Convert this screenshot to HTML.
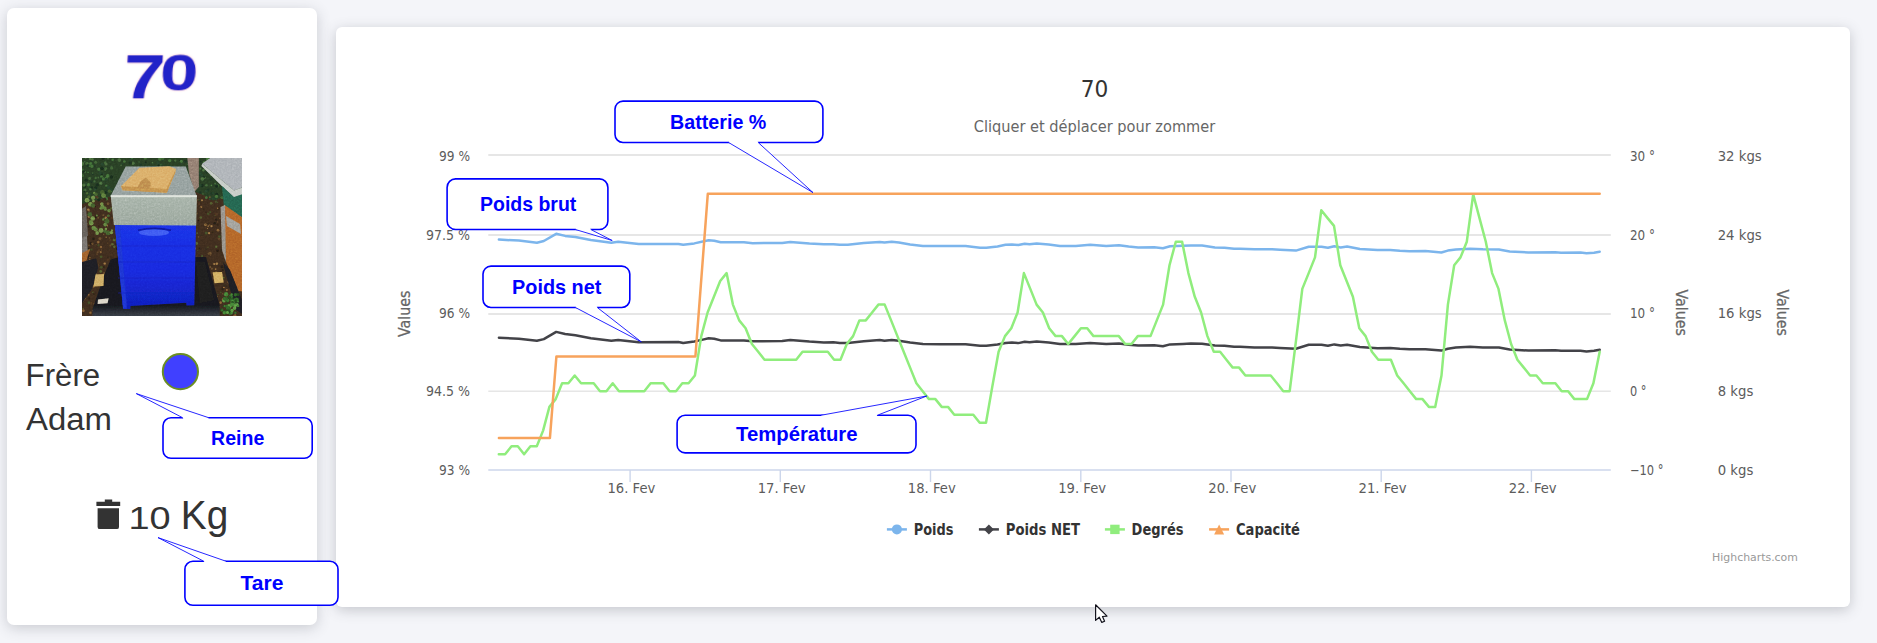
<!DOCTYPE html>
<html lang="fr">
<head>
<meta charset="utf-8">
<title>Ruche 70</title>
<style>
html,body{margin:0;padding:0;}
body{width:1877px;height:643px;overflow:hidden;background:#f4f5f9;position:relative;font-family:"Liberation Sans","DejaVu Sans",sans-serif;}
.card{position:absolute;background:#fff;}
#c1{left:7px;top:8px;width:310px;height:617px;border-radius:7px;box-shadow:0 3px 14px rgba(60,65,78,.23);}
#c2{left:336px;top:27px;width:1514px;height:580px;border-radius:6px;box-shadow:0 3px 13px rgba(60,65,78,.26);}
svg{position:absolute;left:0;top:0;}
.ax{font-family:"DejaVu Sans","Liberation Sans",sans-serif;font-size:13.6px;fill:#5c5c5c;}
.lg{font-family:"DejaVu Sans","Liberation Sans",sans-serif;font-size:15px;font-weight:bold;fill:#333;}
.co{font-family:"Liberation Sans",sans-serif;font-weight:bold;font-size:19.7px;fill:#0000ff;text-anchor:middle;}
.bx{fill:#fff;stroke:#0000ff;stroke-width:1.6;}
.pt{fill:#fff;stroke:#0000ff;stroke-width:.85;}
.ral{font-family:"Liberation Sans",sans-serif;fill:#333;}
</style>
</head>
<body>
<div class="card" id="c1"></div>
<div class="card" id="c2"></div>
<svg id="main" width="1877" height="643" viewBox="0 0 1877 643">
<!--LEFT-->
<g id="left">
<text x="0" y="0" transform="translate(122.4,98.3) skewX(-3)" font-family="Liberation Sans, sans-serif" font-weight="bold" fill="#2222c8" font-size="62" style="filter:drop-shadow(0 0 1.2px rgba(255,120,140,.55))"><tspan textLength="41.4" lengthAdjust="spacingAndGlyphs">7</tspan><tspan font-size="49.8" dx="-5" dy="-7.5" textLength="38" lengthAdjust="spacingAndGlyphs">0</tspan></text>

<defs><clipPath id="pc"><rect x="82" y="158" width="160" height="158"/></clipPath><filter id="pb" x="-5%" y="-5%" width="110%" height="110%"><feGaussianBlur stdDeviation="0.7"/></filter><linearGradient id="gBlue" x1="0" y1="0" x2="0" y2="1"><stop offset="0" stop-color="#1a2fe6"/><stop offset=".55" stop-color="#1527dc"/><stop offset="1" stop-color="#0f1db4"/></linearGradient><linearGradient id="gMetal" x1="0" y1="0" x2="0" y2="1"><stop offset="0" stop-color="#c9d2c8"/><stop offset=".08" stop-color="#a0ada2"/><stop offset="1" stop-color="#93a096"/></linearGradient><linearGradient id="gTarp" x1="0" y1="0" x2="0" y2="1"><stop offset="0" stop-color="#14151a"/><stop offset=".8" stop-color="#16181d"/><stop offset="1" stop-color="#3a4049"/></linearGradient><filter id="pn" x="0" y="0" width="100%" height="100%"><feTurbulence type="fractalNoise" baseFrequency="0.55" numOctaves="2" seed="3"/><feColorMatrix type="saturate" values="0"/></filter></defs>
<g clip-path="url(#pc)"><g filter="url(#pb)">
<rect x="78" y="154" width="168" height="166" fill="#3b2a1b"/>
<polygon points="78.0,154.0 246.0,154.0 246.0,190.0 215.0,200.0 196.0,192.0 150.0,170.0 112.0,196.0 78.0,205.0" fill="#263b24" />
<circle cx="133.8" cy="164.3" r="0.8" fill="#182a1a"/>
<circle cx="213.4" cy="162.0" r="0.8" fill="#46683a"/>
<circle cx="163.2" cy="159.6" r="1.2" fill="#25402a"/>
<circle cx="91.5" cy="181.7" r="1.4" fill="#1f3320"/>
<circle cx="175.3" cy="160.6" r="1.1" fill="#46683a"/>
<circle cx="238.2" cy="160.0" r="1.0" fill="#1f3320"/>
<circle cx="105.1" cy="162.9" r="1.3" fill="#3c5f33"/>
<circle cx="191.1" cy="162.3" r="1.4" fill="#46683a"/>
<circle cx="92.0" cy="160.5" r="1.2" fill="#1f3320"/>
<circle cx="110.8" cy="190.8" r="1.3" fill="#3f6a35"/>
<circle cx="198.7" cy="170.1" r="0.8" fill="#3f6a35"/>
<circle cx="106.3" cy="178.5" r="1.8" fill="#3f6a35"/>
<circle cx="94.4" cy="181.4" r="1.1" fill="#3c5f33"/>
<circle cx="209.5" cy="160.9" r="1.7" fill="#3f6a35"/>
<circle cx="91.7" cy="187.5" r="1.3" fill="#182a1a"/>
<circle cx="161.4" cy="165.0" r="1.3" fill="#25402a"/>
<circle cx="223.3" cy="192.4" r="1.0" fill="#46683a"/>
<circle cx="223.5" cy="198.2" r="0.8" fill="#1f3320"/>
<circle cx="106.2" cy="185.7" r="1.2" fill="#3f6a35"/>
<circle cx="82.7" cy="175.6" r="1.4" fill="#3c5f33"/>
<circle cx="133.0" cy="163.3" r="1.7" fill="#46683a"/>
<circle cx="234.3" cy="186.6" r="1.1" fill="#46683a"/>
<circle cx="145.8" cy="162.3" r="1.1" fill="#182a1a"/>
<circle cx="152.5" cy="162.6" r="0.8" fill="#46683a"/>
<circle cx="82.0" cy="164.4" r="1.7" fill="#3f6a35"/>
<circle cx="180.2" cy="161.0" r="1.4" fill="#1f3320"/>
<circle cx="105.8" cy="168.6" r="1.4" fill="#3c5f33"/>
<circle cx="157.9" cy="162.8" r="1.8" fill="#25402a"/>
<circle cx="95.7" cy="162.3" r="1.5" fill="#3c5f33"/>
<circle cx="234.3" cy="173.2" r="1.3" fill="#182a1a"/>
<circle cx="86.3" cy="180.2" r="1.6" fill="#182a1a"/>
<circle cx="140.7" cy="165.0" r="1.3" fill="#1f3320"/>
<circle cx="206.6" cy="171.8" r="1.4" fill="#1f3320"/>
<circle cx="208.1" cy="189.8" r="1.6" fill="#1f3320"/>
<circle cx="212.9" cy="189.1" r="0.9" fill="#1f3320"/>
<circle cx="240.3" cy="191.2" r="1.0" fill="#25402a"/>
<circle cx="240.1" cy="198.1" r="0.8" fill="#3c5f33"/>
<circle cx="98.3" cy="177.7" r="0.9" fill="#3c5f33"/>
<circle cx="216.5" cy="178.1" r="1.1" fill="#182a1a"/>
<circle cx="101.2" cy="174.3" r="1.5" fill="#182a1a"/>
<circle cx="158.5" cy="165.5" r="1.1" fill="#182a1a"/>
<circle cx="210.1" cy="198.8" r="1.2" fill="#25402a"/>
<circle cx="200.9" cy="161.6" r="0.9" fill="#1f3320"/>
<circle cx="102.3" cy="164.3" r="1.6" fill="#25402a"/>
<circle cx="105.4" cy="192.7" r="1.4" fill="#25402a"/>
<circle cx="103.0" cy="158.6" r="1.4" fill="#182a1a"/>
<circle cx="214.2" cy="166.9" r="0.9" fill="#3c5f33"/>
<circle cx="215.5" cy="160.6" r="1.1" fill="#182a1a"/>
<circle cx="226.7" cy="175.7" r="0.8" fill="#46683a"/>
<circle cx="106.3" cy="179.4" r="1.6" fill="#25402a"/>
<circle cx="106.0" cy="163.9" r="1.5" fill="#46683a"/>
<circle cx="207.5" cy="162.5" r="0.8" fill="#46683a"/>
<circle cx="112.6" cy="159.8" r="1.3" fill="#3f6a35"/>
<circle cx="228.0" cy="176.6" r="1.8" fill="#46683a"/>
<circle cx="211.2" cy="179.3" r="1.5" fill="#1f3320"/>
<circle cx="222.2" cy="197.6" r="1.7" fill="#3c5f33"/>
<circle cx="224.8" cy="166.5" r="0.9" fill="#25402a"/>
<circle cx="101.5" cy="176.6" r="1.4" fill="#3f6a35"/>
<circle cx="130.4" cy="163.1" r="1.7" fill="#1f3320"/>
<circle cx="122.5" cy="163.8" r="0.9" fill="#25402a"/>
<circle cx="234.4" cy="174.7" r="0.9" fill="#25402a"/>
<circle cx="139.1" cy="161.9" r="0.7" fill="#3c5f33"/>
<circle cx="84.9" cy="171.9" r="1.0" fill="#46683a"/>
<circle cx="235.7" cy="162.7" r="1.8" fill="#1f3320"/>
<circle cx="98.8" cy="169.2" r="1.7" fill="#3f6a35"/>
<circle cx="111.0" cy="189.7" r="1.6" fill="#25402a"/>
<circle cx="209.9" cy="165.7" r="1.0" fill="#3f6a35"/>
<circle cx="84.7" cy="161.7" r="0.8" fill="#3c5f33"/>
<circle cx="219.0" cy="160.8" r="1.2" fill="#3f6a35"/>
<circle cx="230.3" cy="169.3" r="0.7" fill="#1f3320"/>
<circle cx="237.1" cy="169.0" r="0.9" fill="#1f3320"/>
<circle cx="203.5" cy="170.2" r="1.4" fill="#46683a"/>
<circle cx="241.1" cy="159.6" r="1.5" fill="#3f6a35"/>
<circle cx="170.2" cy="166.0" r="1.0" fill="#25402a"/>
<circle cx="237.2" cy="170.9" r="1.8" fill="#1f3320"/>
<circle cx="90.7" cy="163.5" r="1.4" fill="#3f6a35"/>
<circle cx="222.8" cy="176.1" r="0.8" fill="#3f6a35"/>
<circle cx="216.6" cy="194.6" r="1.8" fill="#182a1a"/>
<circle cx="89.2" cy="165.8" r="1.2" fill="#3c5f33"/>
<circle cx="237.6" cy="181.0" r="0.7" fill="#1f3320"/>
<circle cx="223.2" cy="167.2" r="0.7" fill="#1f3320"/>
<circle cx="162.8" cy="158.2" r="1.6" fill="#3c5f33"/>
<circle cx="105.0" cy="182.6" r="0.7" fill="#25402a"/>
<circle cx="202.1" cy="185.6" r="1.6" fill="#182a1a"/>
<circle cx="105.2" cy="192.6" r="1.7" fill="#182a1a"/>
<circle cx="212.0" cy="163.9" r="1.5" fill="#46683a"/>
<circle cx="84.6" cy="186.8" r="1.5" fill="#182a1a"/>
<circle cx="87.0" cy="163.6" r="1.8" fill="#3c5f33"/>
<circle cx="90.1" cy="158.8" r="1.4" fill="#46683a"/>
<circle cx="160.3" cy="158.1" r="1.5" fill="#3f6a35"/>
<circle cx="187.5" cy="160.8" r="1.2" fill="#182a1a"/>
<circle cx="211.5" cy="193.5" r="1.5" fill="#1f3320"/>
<circle cx="238.1" cy="178.7" r="0.8" fill="#25402a"/>
<circle cx="227.7" cy="170.1" r="1.4" fill="#3f6a35"/>
<circle cx="184.8" cy="161.3" r="1.1" fill="#1f3320"/>
<circle cx="181.4" cy="163.6" r="0.8" fill="#25402a"/>
<circle cx="101.0" cy="195.5" r="1.0" fill="#1f3320"/>
<circle cx="95.7" cy="177.9" r="1.2" fill="#3c5f33"/>
<circle cx="213.2" cy="198.7" r="1.8" fill="#25402a"/>
<circle cx="230.9" cy="161.1" r="0.9" fill="#3f6a35"/>
<circle cx="103.2" cy="192.4" r="1.0" fill="#46683a"/>
<circle cx="100.0" cy="173.3" r="1.7" fill="#25402a"/>
<circle cx="159.8" cy="159.0" r="1.7" fill="#3f6a35"/>
<circle cx="198.3" cy="175.5" r="1.0" fill="#25402a"/>
<circle cx="216.4" cy="158.1" r="1.6" fill="#3c5f33"/>
<circle cx="101.2" cy="196.9" r="0.7" fill="#182a1a"/>
<circle cx="200.4" cy="168.6" r="1.1" fill="#3f6a35"/>
<circle cx="241.8" cy="182.7" r="1.7" fill="#3c5f33"/>
<circle cx="202.9" cy="193.9" r="0.8" fill="#3c5f33"/>
<circle cx="215.5" cy="170.0" r="1.0" fill="#1f3320"/>
<circle cx="235.0" cy="195.1" r="1.1" fill="#182a1a"/>
<circle cx="222.1" cy="181.3" r="1.5" fill="#1f3320"/>
<circle cx="89.9" cy="188.8" r="1.4" fill="#25402a"/>
<circle cx="104.2" cy="194.5" r="0.8" fill="#25402a"/>
<circle cx="230.3" cy="163.3" r="1.2" fill="#25402a"/>
<circle cx="200.2" cy="185.4" r="1.4" fill="#25402a"/>
<circle cx="145.1" cy="165.0" r="0.8" fill="#1f3320"/>
<circle cx="121.1" cy="165.3" r="0.8" fill="#46683a"/>
<circle cx="201.9" cy="175.3" r="1.5" fill="#25402a"/>
<circle cx="202.3" cy="178.9" r="1.8" fill="#46683a"/>
<circle cx="102.1" cy="179.1" r="1.6" fill="#182a1a"/>
<circle cx="217.8" cy="161.9" r="1.1" fill="#1f3320"/>
<circle cx="236.9" cy="163.3" r="1.5" fill="#25402a"/>
<circle cx="225.3" cy="177.9" r="1.2" fill="#46683a"/>
<circle cx="93.7" cy="197.1" r="1.6" fill="#46683a"/>
<circle cx="237.6" cy="168.4" r="0.9" fill="#3f6a35"/>
<circle cx="106.3" cy="198.8" r="1.7" fill="#3f6a35"/>
<circle cx="204.4" cy="177.2" r="1.6" fill="#46683a"/>
<circle cx="82.2" cy="163.3" r="1.7" fill="#46683a"/>
<circle cx="102.5" cy="168.6" r="1.2" fill="#182a1a"/>
<circle cx="204.2" cy="162.2" r="1.3" fill="#3c5f33"/>
<circle cx="83.7" cy="170.7" r="1.0" fill="#25402a"/>
<circle cx="169.5" cy="159.2" r="1.5" fill="#25402a"/>
<circle cx="131.2" cy="158.9" r="1.7" fill="#25402a"/>
<circle cx="185.5" cy="161.4" r="1.4" fill="#1f3320"/>
<circle cx="230.0" cy="167.5" r="1.5" fill="#3f6a35"/>
<circle cx="145.4" cy="158.3" r="1.5" fill="#3c5f33"/>
<circle cx="237.2" cy="171.1" r="1.0" fill="#1f3320"/>
<circle cx="161.3" cy="165.9" r="1.2" fill="#1f3320"/>
<circle cx="227.7" cy="160.4" r="0.9" fill="#46683a"/>
<circle cx="237.9" cy="164.0" r="1.5" fill="#3f6a35"/>
<circle cx="111.5" cy="176.9" r="1.7" fill="#182a1a"/>
<circle cx="199.2" cy="199.9" r="1.1" fill="#1f3320"/>
<circle cx="111.7" cy="197.3" r="1.2" fill="#182a1a"/>
<circle cx="216.3" cy="199.4" r="0.9" fill="#25402a"/>
<circle cx="82.5" cy="169.8" r="1.2" fill="#3c5f33"/>
<circle cx="223.6" cy="181.6" r="1.1" fill="#1f3320"/>
<circle cx="205.0" cy="171.0" r="0.8" fill="#25402a"/>
<circle cx="91.9" cy="166.2" r="1.7" fill="#3f6a35"/>
<circle cx="235.2" cy="183.9" r="1.5" fill="#3c5f33"/>
<circle cx="233.4" cy="160.7" r="0.8" fill="#1f3320"/>
<circle cx="206.2" cy="191.2" r="1.6" fill="#25402a"/>
<circle cx="103.2" cy="178.9" r="1.6" fill="#3f6a35"/>
<circle cx="200.2" cy="192.6" r="1.4" fill="#1f3320"/>
<circle cx="94.6" cy="166.3" r="1.0" fill="#1f3320"/>
<circle cx="92.4" cy="159.4" r="1.3" fill="#46683a"/>
<circle cx="107.7" cy="175.9" r="1.8" fill="#3f6a35"/>
<circle cx="124.4" cy="161.5" r="1.2" fill="#3f6a35"/>
<circle cx="240.1" cy="198.8" r="1.0" fill="#1f3320"/>
<circle cx="217.5" cy="185.9" r="1.6" fill="#3f6a35"/>
<circle cx="111.7" cy="167.9" r="1.7" fill="#3c5f33"/>
<circle cx="211.4" cy="185.4" r="0.8" fill="#3f6a35"/>
<circle cx="216.5" cy="196.4" r="1.7" fill="#3f6a35"/>
<circle cx="119.3" cy="160.1" r="1.8" fill="#46683a"/>
<circle cx="206.4" cy="197.7" r="1.4" fill="#3f6a35"/>
<circle cx="88.0" cy="172.3" r="0.9" fill="#3f6a35"/>
<circle cx="83.8" cy="171.7" r="1.1" fill="#182a1a"/>
<circle cx="181.4" cy="161.3" r="1.6" fill="#3f6a35"/>
<circle cx="169.7" cy="160.7" r="1.6" fill="#3f6a35"/>
<circle cx="188.2" cy="164.5" r="0.8" fill="#46683a"/>
<circle cx="108.2" cy="187.2" r="1.8" fill="#25402a"/>
<circle cx="90.2" cy="189.3" r="1.2" fill="#3c5f33"/>
<circle cx="84.9" cy="190.2" r="1.4" fill="#3c5f33"/>
<circle cx="232.7" cy="176.2" r="1.2" fill="#1f3320"/>
<circle cx="213.3" cy="175.1" r="1.2" fill="#3c5f33"/>
<circle cx="108.0" cy="158.6" r="0.9" fill="#46683a"/>
<circle cx="211.0" cy="174.7" r="1.4" fill="#46683a"/>
<circle cx="105.3" cy="169.9" r="0.9" fill="#46683a"/>
<circle cx="92.7" cy="174.1" r="1.0" fill="#1f3320"/>
<circle cx="216.0" cy="159.8" r="1.0" fill="#25402a"/>
<circle cx="95.8" cy="187.9" r="1.6" fill="#182a1a"/>
<circle cx="107.6" cy="191.0" r="1.4" fill="#1f3320"/>
<circle cx="88.7" cy="197.4" r="1.1" fill="#1f3320"/>
<circle cx="101.7" cy="168.4" r="1.6" fill="#182a1a"/>
<circle cx="216.8" cy="186.2" r="1.6" fill="#182a1a"/>
<circle cx="100.8" cy="183.2" r="1.6" fill="#46683a"/>
<circle cx="206.5" cy="185.3" r="1.3" fill="#3c5f33"/>
<circle cx="85.7" cy="184.0" r="1.2" fill="#25402a"/>
<circle cx="213.0" cy="193.1" r="1.1" fill="#25402a"/>
<circle cx="92.7" cy="173.1" r="0.8" fill="#3c5f33"/>
<circle cx="88.5" cy="184.7" r="1.7" fill="#3f6a35"/>
<circle cx="94.8" cy="189.6" r="1.4" fill="#25402a"/>
<circle cx="207.5" cy="159.1" r="1.8" fill="#3f6a35"/>
<circle cx="199.1" cy="192.2" r="0.8" fill="#1f3320"/>
<circle cx="223.7" cy="170.1" r="1.5" fill="#1f3320"/>
<circle cx="215.3" cy="183.6" r="0.9" fill="#3c5f33"/>
<circle cx="225.4" cy="169.5" r="0.9" fill="#25402a"/>
<circle cx="87.9" cy="165.6" r="1.4" fill="#1f3320"/>
<circle cx="89.8" cy="194.0" r="1.3" fill="#25402a"/>
<circle cx="98.7" cy="199.7" r="1.6" fill="#182a1a"/>
<circle cx="200.1" cy="173.6" r="1.8" fill="#25402a"/>
<circle cx="204.3" cy="176.6" r="1.4" fill="#1f3320"/>
<circle cx="235.3" cy="170.4" r="1.0" fill="#46683a"/>
<circle cx="132.0" cy="158.1" r="0.9" fill="#3f6a35"/>
<circle cx="89.6" cy="178.5" r="1.4" fill="#46683a"/>
<circle cx="85.6" cy="158.1" r="1.0" fill="#3c5f33"/>
<circle cx="103.4" cy="173.4" r="0.9" fill="#25402a"/>
<circle cx="84.3" cy="191.7" r="0.9" fill="#182a1a"/>
<circle cx="97.3" cy="184.8" r="1.6" fill="#182a1a"/>
<circle cx="83.8" cy="185.1" r="1.7" fill="#46683a"/>
<circle cx="160.9" cy="164.9" r="0.7" fill="#3f6a35"/>
<circle cx="167.0" cy="244.7" r="0.7" fill="#221a12"/>
<circle cx="227.9" cy="208.6" r="1.1" fill="#2b2016"/>
<circle cx="232.5" cy="213.1" r="1.1" fill="#221a12"/>
<circle cx="184.8" cy="273.7" r="1.3" fill="#352a1c"/>
<circle cx="109.9" cy="233.1" r="1.2" fill="#4f5a2e"/>
<circle cx="241.0" cy="282.9" r="1.2" fill="#62492c"/>
<circle cx="83.0" cy="297.3" r="0.7" fill="#62492c"/>
<circle cx="186.9" cy="217.0" r="0.8" fill="#33261a"/>
<circle cx="185.0" cy="210.8" r="1.2" fill="#4f5a2e"/>
<circle cx="124.6" cy="262.5" r="1.2" fill="#352a1c"/>
<circle cx="228.8" cy="312.6" r="1.2" fill="#4f5a2e"/>
<circle cx="236.4" cy="222.0" r="0.6" fill="#3f4a26"/>
<circle cx="123.7" cy="224.3" r="1.5" fill="#221a12"/>
<circle cx="201.4" cy="235.2" r="0.9" fill="#352a1c"/>
<circle cx="120.3" cy="304.9" r="1.4" fill="#4a3320"/>
<circle cx="239.1" cy="297.0" r="1.0" fill="#3f4a26"/>
<circle cx="216.4" cy="279.7" r="1.0" fill="#5e4529"/>
<circle cx="197.9" cy="264.4" r="1.3" fill="#4f5a2e"/>
<circle cx="144.7" cy="266.2" r="1.4" fill="#2b2016"/>
<circle cx="105.1" cy="199.2" r="1.2" fill="#33261a"/>
<circle cx="107.9" cy="313.3" r="0.6" fill="#5e4529"/>
<circle cx="104.1" cy="273.2" r="1.2" fill="#5e4529"/>
<circle cx="199.9" cy="203.9" r="1.3" fill="#2b2016"/>
<circle cx="113.9" cy="310.5" r="1.4" fill="#3f4a26"/>
<circle cx="92.6" cy="300.1" r="0.7" fill="#352a1c"/>
<circle cx="114.9" cy="209.4" r="1.5" fill="#5e4529"/>
<circle cx="227.8" cy="286.5" r="1.3" fill="#33261a"/>
<circle cx="183.0" cy="230.5" r="0.7" fill="#33261a"/>
<circle cx="208.7" cy="273.6" r="0.9" fill="#4f5a2e"/>
<circle cx="149.8" cy="198.5" r="1.4" fill="#4f5a2e"/>
<circle cx="89.7" cy="287.2" r="1.3" fill="#96703f"/>
<circle cx="178.3" cy="253.1" r="1.2" fill="#4f5a2e"/>
<circle cx="87.0" cy="245.6" r="1.1" fill="#352a1c"/>
<circle cx="97.7" cy="252.3" r="1.1" fill="#5e4529"/>
<circle cx="116.7" cy="299.5" r="1.1" fill="#33261a"/>
<circle cx="127.9" cy="248.3" r="0.8" fill="#3f4a26"/>
<circle cx="203.9" cy="313.3" r="0.9" fill="#5e4529"/>
<circle cx="97.3" cy="279.4" r="1.5" fill="#7d5a32"/>
<circle cx="176.8" cy="310.9" r="0.8" fill="#3f4a26"/>
<circle cx="233.0" cy="230.0" r="1.4" fill="#221a12"/>
<circle cx="119.0" cy="215.9" r="1.3" fill="#4a3320"/>
<circle cx="160.4" cy="314.9" r="1.3" fill="#3f4a26"/>
<circle cx="182.5" cy="238.7" r="1.4" fill="#352a1c"/>
<circle cx="224.7" cy="285.4" r="1.4" fill="#352a1c"/>
<circle cx="86.0" cy="220.7" r="1.0" fill="#4f5a2e"/>
<circle cx="169.2" cy="216.5" r="0.8" fill="#4a3320"/>
<circle cx="155.7" cy="259.8" r="1.2" fill="#2b2016"/>
<circle cx="137.8" cy="235.2" r="1.4" fill="#7d5a32"/>
<circle cx="154.0" cy="262.4" r="0.8" fill="#96703f"/>
<circle cx="152.2" cy="288.8" r="0.8" fill="#2b2016"/>
<circle cx="135.4" cy="273.1" r="1.1" fill="#221a12"/>
<circle cx="124.8" cy="286.6" r="0.7" fill="#2b2016"/>
<circle cx="107.0" cy="225.7" r="1.1" fill="#96703f"/>
<circle cx="137.8" cy="224.3" r="0.8" fill="#221a12"/>
<circle cx="234.8" cy="315.4" r="1.5" fill="#7d5a32"/>
<circle cx="98.3" cy="242.1" r="1.3" fill="#7d5a32"/>
<circle cx="199.3" cy="248.2" r="0.7" fill="#221a12"/>
<circle cx="227.8" cy="229.7" r="1.0" fill="#352a1c"/>
<circle cx="84.0" cy="298.5" r="1.2" fill="#352a1c"/>
<circle cx="162.1" cy="271.9" r="0.6" fill="#62492c"/>
<circle cx="123.2" cy="284.6" r="1.3" fill="#5e4529"/>
<circle cx="227.3" cy="247.6" r="1.1" fill="#2b2016"/>
<circle cx="185.6" cy="297.5" r="1.2" fill="#4a3320"/>
<circle cx="222.8" cy="288.9" r="1.4" fill="#2b2016"/>
<circle cx="190.7" cy="273.0" r="1.0" fill="#62492c"/>
<circle cx="123.6" cy="280.1" r="0.8" fill="#352a1c"/>
<circle cx="146.0" cy="281.5" r="0.8" fill="#7d5a32"/>
<circle cx="149.8" cy="250.6" r="1.4" fill="#2b2016"/>
<circle cx="164.9" cy="275.3" r="1.4" fill="#7d5a32"/>
<circle cx="134.5" cy="197.3" r="1.4" fill="#62492c"/>
<circle cx="99.0" cy="226.1" r="0.7" fill="#221a12"/>
<circle cx="207.1" cy="308.9" r="0.9" fill="#3f4a26"/>
<circle cx="217.5" cy="250.8" r="1.2" fill="#221a12"/>
<circle cx="164.0" cy="272.7" r="1.1" fill="#96703f"/>
<circle cx="147.7" cy="309.8" r="1.5" fill="#221a12"/>
<circle cx="111.4" cy="257.7" r="1.3" fill="#33261a"/>
<circle cx="180.2" cy="272.5" r="0.8" fill="#4f5a2e"/>
<circle cx="145.9" cy="197.6" r="1.4" fill="#352a1c"/>
<circle cx="182.6" cy="277.0" r="0.8" fill="#2b2016"/>
<circle cx="117.9" cy="285.0" r="1.5" fill="#3f4a26"/>
<circle cx="241.1" cy="311.3" r="0.8" fill="#62492c"/>
<circle cx="102.7" cy="289.2" r="0.8" fill="#4a3320"/>
<circle cx="184.8" cy="282.5" r="0.9" fill="#7d5a32"/>
<circle cx="184.2" cy="294.2" r="1.0" fill="#352a1c"/>
<circle cx="129.1" cy="261.8" r="1.3" fill="#7d5a32"/>
<circle cx="157.1" cy="290.0" r="0.8" fill="#221a12"/>
<circle cx="142.2" cy="226.4" r="1.2" fill="#352a1c"/>
<circle cx="159.1" cy="292.7" r="0.9" fill="#4f5a2e"/>
<circle cx="186.7" cy="234.4" r="1.0" fill="#62492c"/>
<circle cx="184.0" cy="275.1" r="0.7" fill="#96703f"/>
<circle cx="130.5" cy="242.2" r="1.3" fill="#33261a"/>
<circle cx="226.9" cy="290.1" r="1.1" fill="#7d5a32"/>
<circle cx="137.2" cy="265.9" r="0.6" fill="#4a3320"/>
<circle cx="234.3" cy="274.7" r="1.1" fill="#4f5a2e"/>
<circle cx="174.6" cy="298.5" r="1.3" fill="#7d5a32"/>
<circle cx="137.4" cy="214.3" r="1.3" fill="#352a1c"/>
<circle cx="108.9" cy="302.9" r="1.5" fill="#2b2016"/>
<circle cx="96.5" cy="304.2" r="1.3" fill="#3f4a26"/>
<circle cx="216.2" cy="219.7" r="1.1" fill="#221a12"/>
<circle cx="200.7" cy="248.6" r="1.1" fill="#33261a"/>
<circle cx="124.3" cy="224.1" r="1.0" fill="#7d5a32"/>
<circle cx="171.2" cy="254.1" r="1.2" fill="#7d5a32"/>
<circle cx="121.5" cy="215.8" r="1.4" fill="#2b2016"/>
<circle cx="83.1" cy="296.9" r="1.2" fill="#62492c"/>
<circle cx="161.6" cy="231.6" r="0.9" fill="#62492c"/>
<circle cx="149.0" cy="311.3" r="0.8" fill="#33261a"/>
<circle cx="139.7" cy="273.6" r="1.1" fill="#5e4529"/>
<circle cx="191.2" cy="307.8" r="1.3" fill="#96703f"/>
<circle cx="97.0" cy="254.1" r="0.6" fill="#7d5a32"/>
<circle cx="196.9" cy="271.0" r="0.7" fill="#96703f"/>
<circle cx="187.4" cy="237.0" r="1.1" fill="#3f4a26"/>
<circle cx="228.0" cy="230.1" r="1.0" fill="#96703f"/>
<circle cx="170.6" cy="295.2" r="0.9" fill="#4f5a2e"/>
<circle cx="161.0" cy="236.0" r="1.4" fill="#4f5a2e"/>
<circle cx="137.2" cy="220.4" r="1.3" fill="#62492c"/>
<circle cx="134.9" cy="234.1" r="0.7" fill="#4f5a2e"/>
<circle cx="237.6" cy="206.5" r="1.0" fill="#5e4529"/>
<circle cx="170.7" cy="244.7" r="0.6" fill="#2b2016"/>
<circle cx="130.1" cy="196.7" r="1.3" fill="#221a12"/>
<circle cx="158.0" cy="287.9" r="1.3" fill="#5e4529"/>
<circle cx="227.6" cy="269.4" r="0.7" fill="#2b2016"/>
<circle cx="189.8" cy="278.7" r="0.7" fill="#4a3320"/>
<circle cx="88.3" cy="272.0" r="1.3" fill="#4a3320"/>
<circle cx="98.2" cy="217.8" r="1.0" fill="#5e4529"/>
<circle cx="98.1" cy="307.7" r="0.9" fill="#5e4529"/>
<circle cx="213.6" cy="290.4" r="1.2" fill="#3f4a26"/>
<circle cx="220.0" cy="218.2" r="0.9" fill="#5e4529"/>
<circle cx="150.9" cy="273.0" r="1.0" fill="#5e4529"/>
<circle cx="165.5" cy="295.0" r="1.1" fill="#352a1c"/>
<circle cx="229.0" cy="249.6" r="1.2" fill="#5e4529"/>
<circle cx="177.0" cy="315.2" r="1.5" fill="#4a3320"/>
<circle cx="158.1" cy="245.5" r="0.7" fill="#33261a"/>
<circle cx="157.6" cy="303.5" r="0.6" fill="#4a3320"/>
<circle cx="82.8" cy="278.1" r="1.5" fill="#33261a"/>
<circle cx="219.4" cy="222.2" r="0.7" fill="#33261a"/>
<circle cx="84.8" cy="282.3" r="1.0" fill="#221a12"/>
<circle cx="201.1" cy="306.7" r="1.3" fill="#96703f"/>
<circle cx="196.2" cy="298.7" r="0.9" fill="#33261a"/>
<circle cx="171.2" cy="255.8" r="1.4" fill="#4a3320"/>
<circle cx="122.6" cy="311.7" r="0.6" fill="#5e4529"/>
<circle cx="84.4" cy="274.1" r="0.7" fill="#2b2016"/>
<circle cx="131.8" cy="283.5" r="1.5" fill="#7d5a32"/>
<circle cx="215.6" cy="269.1" r="0.9" fill="#96703f"/>
<circle cx="174.0" cy="248.6" r="0.7" fill="#4a3320"/>
<circle cx="236.6" cy="210.0" r="0.7" fill="#4a3320"/>
<circle cx="210.3" cy="253.2" r="1.5" fill="#62492c"/>
<circle cx="207.5" cy="264.0" r="0.9" fill="#4f5a2e"/>
<circle cx="181.5" cy="274.1" r="0.9" fill="#2b2016"/>
<circle cx="178.9" cy="313.3" r="1.1" fill="#7d5a32"/>
<circle cx="131.4" cy="247.4" r="0.9" fill="#221a12"/>
<circle cx="191.6" cy="268.2" r="1.3" fill="#221a12"/>
<circle cx="127.3" cy="196.2" r="0.8" fill="#4f5a2e"/>
<circle cx="107.2" cy="306.5" r="0.9" fill="#5e4529"/>
<circle cx="104.5" cy="302.9" r="0.7" fill="#2b2016"/>
<circle cx="238.1" cy="291.7" r="1.2" fill="#3f4a26"/>
<circle cx="228.2" cy="237.6" r="1.1" fill="#33261a"/>
<circle cx="159.6" cy="241.8" r="0.9" fill="#221a12"/>
<circle cx="91.2" cy="243.5" r="1.4" fill="#221a12"/>
<circle cx="175.8" cy="197.1" r="1.0" fill="#352a1c"/>
<circle cx="96.0" cy="292.8" r="0.8" fill="#33261a"/>
<circle cx="174.7" cy="303.6" r="0.9" fill="#3f4a26"/>
<circle cx="163.0" cy="220.2" r="0.8" fill="#221a12"/>
<circle cx="110.9" cy="280.1" r="1.1" fill="#96703f"/>
<circle cx="139.4" cy="289.6" r="0.8" fill="#7d5a32"/>
<circle cx="229.6" cy="255.2" r="0.9" fill="#33261a"/>
<circle cx="156.1" cy="205.8" r="1.1" fill="#96703f"/>
<circle cx="137.2" cy="258.3" r="0.7" fill="#5e4529"/>
<circle cx="114.7" cy="300.5" r="1.0" fill="#2b2016"/>
<circle cx="172.7" cy="227.4" r="1.0" fill="#4f5a2e"/>
<circle cx="233.4" cy="288.1" r="1.5" fill="#2b2016"/>
<circle cx="122.6" cy="200.5" r="1.5" fill="#221a12"/>
<circle cx="142.5" cy="199.3" r="1.1" fill="#5e4529"/>
<circle cx="221.3" cy="251.0" r="1.4" fill="#33261a"/>
<circle cx="184.4" cy="306.7" r="0.8" fill="#33261a"/>
<circle cx="172.3" cy="272.9" r="1.1" fill="#4a3320"/>
<circle cx="111.2" cy="298.0" r="1.5" fill="#96703f"/>
<circle cx="240.7" cy="222.6" r="1.4" fill="#5e4529"/>
<circle cx="232.6" cy="203.1" r="1.4" fill="#3f4a26"/>
<circle cx="216.0" cy="201.6" r="1.2" fill="#3f4a26"/>
<circle cx="185.5" cy="314.3" r="0.7" fill="#5e4529"/>
<circle cx="132.8" cy="196.7" r="1.2" fill="#221a12"/>
<circle cx="129.8" cy="267.0" r="0.7" fill="#4a3320"/>
<circle cx="133.8" cy="226.8" r="0.9" fill="#33261a"/>
<circle cx="142.7" cy="249.0" r="1.4" fill="#7d5a32"/>
<circle cx="224.7" cy="252.1" r="1.3" fill="#221a12"/>
<circle cx="107.1" cy="295.9" r="1.4" fill="#33261a"/>
<circle cx="220.7" cy="302.6" r="1.3" fill="#7d5a32"/>
<circle cx="235.3" cy="307.1" r="1.4" fill="#352a1c"/>
<circle cx="182.5" cy="250.3" r="0.9" fill="#96703f"/>
<circle cx="119.4" cy="209.9" r="0.7" fill="#96703f"/>
<circle cx="117.5" cy="202.8" r="1.1" fill="#62492c"/>
<circle cx="105.2" cy="300.5" r="1.0" fill="#4f5a2e"/>
<circle cx="121.5" cy="199.1" r="1.4" fill="#2b2016"/>
<circle cx="135.5" cy="216.1" r="0.7" fill="#62492c"/>
<circle cx="155.0" cy="253.9" r="1.5" fill="#7d5a32"/>
<circle cx="91.1" cy="303.4" r="1.4" fill="#4a3320"/>
<circle cx="171.6" cy="296.2" r="0.8" fill="#33261a"/>
<circle cx="114.3" cy="239.7" r="1.5" fill="#4f5a2e"/>
<circle cx="230.0" cy="207.7" r="1.0" fill="#4f5a2e"/>
<circle cx="108.0" cy="295.9" r="0.7" fill="#4f5a2e"/>
<circle cx="184.4" cy="249.1" r="0.9" fill="#3f4a26"/>
<circle cx="104.4" cy="196.2" r="0.9" fill="#3f4a26"/>
<circle cx="139.6" cy="200.9" r="0.8" fill="#352a1c"/>
<circle cx="173.4" cy="212.6" r="1.1" fill="#7d5a32"/>
<circle cx="118.9" cy="217.1" r="0.7" fill="#2b2016"/>
<circle cx="96.0" cy="269.0" r="1.3" fill="#62492c"/>
<circle cx="110.1" cy="212.4" r="1.2" fill="#4a3320"/>
<circle cx="211.9" cy="266.0" r="0.6" fill="#221a12"/>
<circle cx="192.8" cy="258.3" r="1.1" fill="#5e4529"/>
<circle cx="137.6" cy="229.8" r="1.4" fill="#4a3320"/>
<circle cx="160.9" cy="197.9" r="0.7" fill="#62492c"/>
<circle cx="188.5" cy="225.8" r="1.3" fill="#2b2016"/>
<circle cx="140.7" cy="215.6" r="1.1" fill="#96703f"/>
<circle cx="219.3" cy="238.7" r="1.5" fill="#62492c"/>
<circle cx="93.4" cy="238.8" r="1.3" fill="#221a12"/>
<circle cx="220.5" cy="234.5" r="1.1" fill="#352a1c"/>
<circle cx="225.7" cy="231.0" r="1.5" fill="#33261a"/>
<circle cx="161.2" cy="257.6" r="1.3" fill="#3f4a26"/>
<circle cx="103.5" cy="225.2" r="0.8" fill="#33261a"/>
<circle cx="111.2" cy="208.3" r="1.1" fill="#4f5a2e"/>
<circle cx="234.9" cy="198.3" r="0.8" fill="#221a12"/>
<circle cx="216.0" cy="272.4" r="1.1" fill="#62492c"/>
<circle cx="194.4" cy="208.3" r="1.2" fill="#33261a"/>
<circle cx="89.2" cy="210.8" r="1.1" fill="#62492c"/>
<circle cx="203.8" cy="209.2" r="1.0" fill="#33261a"/>
<circle cx="103.9" cy="267.0" r="0.7" fill="#221a12"/>
<circle cx="173.7" cy="285.6" r="1.5" fill="#7d5a32"/>
<circle cx="85.0" cy="272.2" r="1.1" fill="#352a1c"/>
<circle cx="178.4" cy="200.3" r="1.3" fill="#5e4529"/>
<circle cx="136.2" cy="224.8" r="1.2" fill="#96703f"/>
<circle cx="216.9" cy="263.7" r="1.3" fill="#96703f"/>
<circle cx="217.6" cy="202.4" r="0.7" fill="#3f4a26"/>
<circle cx="190.8" cy="238.4" r="1.2" fill="#352a1c"/>
<circle cx="83.8" cy="209.1" r="0.7" fill="#7d5a32"/>
<circle cx="151.3" cy="256.6" r="0.8" fill="#5e4529"/>
<circle cx="149.3" cy="243.6" r="1.2" fill="#62492c"/>
<circle cx="211.5" cy="302.1" r="0.6" fill="#5e4529"/>
<circle cx="184.7" cy="227.9" r="1.2" fill="#4a3320"/>
<circle cx="182.5" cy="292.8" r="1.2" fill="#5e4529"/>
<circle cx="122.1" cy="258.4" r="0.8" fill="#352a1c"/>
<circle cx="88.3" cy="209.6" r="1.2" fill="#96703f"/>
<circle cx="101.3" cy="267.3" r="1.4" fill="#3f4a26"/>
<circle cx="95.5" cy="266.8" r="1.0" fill="#7d5a32"/>
<circle cx="163.9" cy="302.2" r="1.1" fill="#352a1c"/>
<circle cx="125.9" cy="284.3" r="0.9" fill="#3f4a26"/>
<circle cx="154.7" cy="279.4" r="1.2" fill="#221a12"/>
<circle cx="114.2" cy="281.2" r="1.4" fill="#62492c"/>
<circle cx="130.6" cy="253.3" r="0.6" fill="#4f5a2e"/>
<circle cx="135.4" cy="218.7" r="0.9" fill="#3f4a26"/>
<circle cx="175.7" cy="197.4" r="0.7" fill="#96703f"/>
<circle cx="234.3" cy="234.9" r="1.0" fill="#96703f"/>
<circle cx="127.6" cy="314.5" r="0.7" fill="#4f5a2e"/>
<circle cx="85.5" cy="262.1" r="1.4" fill="#2b2016"/>
<circle cx="152.4" cy="203.4" r="1.4" fill="#352a1c"/>
<circle cx="138.7" cy="287.5" r="0.8" fill="#3f4a26"/>
<circle cx="235.5" cy="284.6" r="1.0" fill="#7d5a32"/>
<circle cx="188.9" cy="212.8" r="1.2" fill="#221a12"/>
<circle cx="218.0" cy="294.5" r="0.7" fill="#3f4a26"/>
<circle cx="219.0" cy="306.6" r="0.8" fill="#62492c"/>
<circle cx="182.9" cy="271.9" r="1.0" fill="#7d5a32"/>
<circle cx="98.5" cy="245.3" r="1.1" fill="#3f4a26"/>
<circle cx="161.7" cy="311.5" r="0.7" fill="#2b2016"/>
<circle cx="218.0" cy="229.5" r="1.1" fill="#2b2016"/>
<circle cx="142.7" cy="250.3" r="0.9" fill="#62492c"/>
<circle cx="138.4" cy="238.4" r="1.1" fill="#3f4a26"/>
<circle cx="143.5" cy="234.6" r="0.9" fill="#62492c"/>
<circle cx="130.0" cy="260.4" r="1.0" fill="#7d5a32"/>
<circle cx="142.3" cy="223.8" r="0.9" fill="#96703f"/>
<circle cx="216.9" cy="296.6" r="0.8" fill="#96703f"/>
<circle cx="150.2" cy="305.3" r="0.6" fill="#5e4529"/>
<circle cx="123.0" cy="303.5" r="1.4" fill="#4f5a2e"/>
<circle cx="205.8" cy="260.6" r="1.1" fill="#352a1c"/>
<circle cx="164.8" cy="278.2" r="1.0" fill="#352a1c"/>
<circle cx="88.5" cy="277.1" r="1.5" fill="#62492c"/>
<circle cx="190.2" cy="259.0" r="1.0" fill="#33261a"/>
<circle cx="162.1" cy="273.8" r="0.7" fill="#2b2016"/>
<circle cx="112.1" cy="246.5" r="1.0" fill="#352a1c"/>
<circle cx="181.9" cy="315.5" r="1.2" fill="#96703f"/>
<circle cx="201.4" cy="207.1" r="0.9" fill="#96703f"/>
<circle cx="238.5" cy="295.1" r="0.8" fill="#3f4a26"/>
<circle cx="186.9" cy="231.4" r="1.3" fill="#96703f"/>
<circle cx="240.4" cy="302.6" r="1.2" fill="#352a1c"/>
<circle cx="165.8" cy="293.9" r="1.1" fill="#221a12"/>
<circle cx="112.1" cy="217.9" r="1.1" fill="#4a3320"/>
<circle cx="99.1" cy="264.4" r="1.2" fill="#4a3320"/>
<circle cx="88.8" cy="245.4" r="0.9" fill="#5e4529"/>
<circle cx="192.5" cy="196.5" r="1.0" fill="#4f5a2e"/>
<circle cx="97.8" cy="197.9" r="0.8" fill="#5e4529"/>
<circle cx="161.7" cy="262.4" r="1.4" fill="#4f5a2e"/>
<circle cx="225.3" cy="257.7" r="1.1" fill="#7d5a32"/>
<circle cx="147.8" cy="210.6" r="1.1" fill="#7d5a32"/>
<circle cx="163.5" cy="199.5" r="0.8" fill="#33261a"/>
<circle cx="165.6" cy="294.8" r="1.0" fill="#2b2016"/>
<circle cx="210.0" cy="274.0" r="1.3" fill="#4a3320"/>
<circle cx="133.7" cy="281.9" r="0.8" fill="#96703f"/>
<circle cx="87.3" cy="271.4" r="0.7" fill="#2b2016"/>
<circle cx="112.7" cy="270.9" r="0.6" fill="#5e4529"/>
<circle cx="224.5" cy="265.9" r="1.0" fill="#5e4529"/>
<circle cx="181.2" cy="225.9" r="0.7" fill="#5e4529"/>
<circle cx="175.9" cy="216.8" r="1.4" fill="#5e4529"/>
<circle cx="212.5" cy="232.4" r="0.8" fill="#2b2016"/>
<circle cx="223.9" cy="313.5" r="0.8" fill="#33261a"/>
<circle cx="144.4" cy="282.2" r="1.0" fill="#221a12"/>
<circle cx="145.8" cy="281.4" r="1.3" fill="#5e4529"/>
<circle cx="120.9" cy="216.8" r="0.9" fill="#96703f"/>
<circle cx="83.2" cy="301.9" r="1.1" fill="#352a1c"/>
<circle cx="100.4" cy="260.1" r="0.9" fill="#352a1c"/>
<circle cx="186.2" cy="311.3" r="1.3" fill="#352a1c"/>
<circle cx="138.2" cy="225.4" r="1.0" fill="#221a12"/>
<circle cx="137.1" cy="248.3" r="1.2" fill="#4f5a2e"/>
<circle cx="136.6" cy="214.7" r="0.7" fill="#7d5a32"/>
<circle cx="125.1" cy="296.2" r="1.1" fill="#7d5a32"/>
<circle cx="156.7" cy="291.4" r="0.7" fill="#221a12"/>
<circle cx="138.5" cy="282.7" r="1.2" fill="#352a1c"/>
<circle cx="174.9" cy="231.7" r="1.1" fill="#62492c"/>
<circle cx="118.4" cy="250.3" r="1.4" fill="#7d5a32"/>
<circle cx="241.7" cy="267.5" r="1.1" fill="#62492c"/>
<circle cx="140.9" cy="225.6" r="1.1" fill="#2b2016"/>
<circle cx="102.1" cy="286.1" r="1.1" fill="#4a3320"/>
<circle cx="168.8" cy="228.4" r="0.6" fill="#352a1c"/>
<circle cx="196.9" cy="213.4" r="1.0" fill="#5e4529"/>
<circle cx="95.8" cy="217.2" r="0.9" fill="#221a12"/>
<circle cx="188.0" cy="209.1" r="1.4" fill="#3f4a26"/>
<circle cx="210.8" cy="287.0" r="0.7" fill="#221a12"/>
<circle cx="131.8" cy="223.2" r="1.3" fill="#7d5a32"/>
<circle cx="145.8" cy="238.7" r="1.3" fill="#62492c"/>
<circle cx="223.2" cy="299.4" r="1.4" fill="#7d5a32"/>
<circle cx="110.2" cy="240.0" r="1.2" fill="#4a3320"/>
<circle cx="225.5" cy="199.0" r="0.8" fill="#62492c"/>
<circle cx="217.5" cy="238.3" r="0.7" fill="#4a3320"/>
<circle cx="128.6" cy="228.5" r="1.3" fill="#2b2016"/>
<circle cx="196.0" cy="200.9" r="1.1" fill="#5e4529"/>
<circle cx="150.9" cy="286.8" r="0.9" fill="#7d5a32"/>
<circle cx="88.3" cy="233.3" r="1.4" fill="#4a3320"/>
<circle cx="172.3" cy="223.3" r="1.2" fill="#62492c"/>
<circle cx="122.8" cy="248.2" r="1.1" fill="#4a3320"/>
<circle cx="231.7" cy="209.4" r="0.9" fill="#4a3320"/>
<circle cx="88.9" cy="298.5" r="1.2" fill="#2b2016"/>
<circle cx="237.9" cy="277.7" r="1.3" fill="#5e4529"/>
<circle cx="115.6" cy="305.7" r="1.0" fill="#33261a"/>
<circle cx="201.0" cy="315.8" r="1.3" fill="#2b2016"/>
<circle cx="127.0" cy="206.8" r="1.0" fill="#352a1c"/>
<circle cx="136.4" cy="256.4" r="1.2" fill="#4a3320"/>
<circle cx="163.4" cy="277.2" r="1.0" fill="#221a12"/>
<circle cx="163.9" cy="307.4" r="1.0" fill="#7d5a32"/>
<circle cx="112.3" cy="310.3" r="0.8" fill="#3f4a26"/>
<circle cx="169.4" cy="312.3" r="0.8" fill="#4a3320"/>
<circle cx="123.6" cy="311.6" r="0.9" fill="#7d5a32"/>
<circle cx="147.9" cy="220.2" r="0.7" fill="#4f5a2e"/>
<circle cx="191.8" cy="254.4" r="0.8" fill="#62492c"/>
<circle cx="120.7" cy="257.8" r="0.7" fill="#62492c"/>
<circle cx="184.5" cy="279.8" r="1.4" fill="#7d5a32"/>
<circle cx="104.7" cy="263.6" r="1.2" fill="#96703f"/>
<circle cx="100.9" cy="247.0" r="1.2" fill="#7d5a32"/>
<circle cx="106.8" cy="313.5" r="1.3" fill="#352a1c"/>
<circle cx="100.3" cy="230.7" r="1.0" fill="#96703f"/>
<circle cx="88.9" cy="303.5" r="0.8" fill="#4f5a2e"/>
<circle cx="194.3" cy="249.8" r="0.7" fill="#33261a"/>
<circle cx="153.2" cy="264.3" r="0.8" fill="#4f5a2e"/>
<circle cx="93.5" cy="197.3" r="0.7" fill="#62492c"/>
<circle cx="196.7" cy="313.6" r="0.8" fill="#2b2016"/>
<circle cx="185.2" cy="310.8" r="0.8" fill="#62492c"/>
<circle cx="168.9" cy="197.0" r="1.2" fill="#33261a"/>
<circle cx="182.4" cy="308.2" r="1.2" fill="#4a3320"/>
<circle cx="186.5" cy="205.4" r="0.6" fill="#5e4529"/>
<circle cx="145.2" cy="213.4" r="0.8" fill="#96703f"/>
<circle cx="184.1" cy="297.5" r="0.8" fill="#4a3320"/>
<circle cx="207.5" cy="295.6" r="0.9" fill="#2b2016"/>
<circle cx="111.5" cy="295.0" r="0.8" fill="#96703f"/>
<circle cx="103.8" cy="306.4" r="0.8" fill="#4f5a2e"/>
<circle cx="88.6" cy="264.0" r="1.4" fill="#4a3320"/>
<circle cx="242.0" cy="244.4" r="1.5" fill="#5e4529"/>
<circle cx="161.1" cy="255.9" r="1.5" fill="#7d5a32"/>
<circle cx="178.4" cy="271.2" r="1.2" fill="#7d5a32"/>
<circle cx="108.2" cy="249.2" r="0.7" fill="#352a1c"/>
<circle cx="88.4" cy="248.7" r="0.8" fill="#221a12"/>
<circle cx="141.6" cy="199.8" r="1.4" fill="#2b2016"/>
<circle cx="207.9" cy="247.1" r="0.7" fill="#4f5a2e"/>
<circle cx="90.8" cy="281.3" r="0.7" fill="#96703f"/>
<circle cx="83.4" cy="310.7" r="1.4" fill="#7d5a32"/>
<circle cx="108.3" cy="231.5" r="1.3" fill="#62492c"/>
<circle cx="190.0" cy="264.1" r="0.7" fill="#62492c"/>
<circle cx="133.8" cy="251.3" r="1.4" fill="#3f4a26"/>
<circle cx="220.5" cy="312.9" r="1.2" fill="#2b2016"/>
<circle cx="211.8" cy="203.2" r="0.9" fill="#4a3320"/>
<circle cx="187.3" cy="263.8" r="1.5" fill="#352a1c"/>
<circle cx="158.9" cy="273.7" r="1.4" fill="#4f5a2e"/>
<circle cx="166.9" cy="272.0" r="0.8" fill="#221a12"/>
<circle cx="200.4" cy="279.0" r="1.2" fill="#7d5a32"/>
<circle cx="141.5" cy="265.7" r="0.9" fill="#352a1c"/>
<circle cx="120.4" cy="249.0" r="0.7" fill="#4f5a2e"/>
<circle cx="110.9" cy="302.8" r="1.3" fill="#3f4a26"/>
<circle cx="117.4" cy="296.5" r="0.7" fill="#4a3320"/>
<circle cx="166.9" cy="226.2" r="0.8" fill="#62492c"/>
<circle cx="155.3" cy="260.9" r="1.3" fill="#33261a"/>
<circle cx="227.5" cy="264.0" r="1.2" fill="#352a1c"/>
<circle cx="210.1" cy="212.1" r="1.1" fill="#3f4a26"/>
<circle cx="196.3" cy="286.8" r="1.2" fill="#33261a"/>
<circle cx="235.7" cy="257.8" r="1.3" fill="#62492c"/>
<circle cx="144.7" cy="216.6" r="1.1" fill="#221a12"/>
<circle cx="206.0" cy="212.4" r="0.7" fill="#2b2016"/>
<circle cx="119.9" cy="240.7" r="1.2" fill="#5e4529"/>
<circle cx="234.9" cy="251.2" r="1.2" fill="#33261a"/>
<circle cx="150.2" cy="302.6" r="1.5" fill="#2b2016"/>
<circle cx="114.3" cy="209.8" r="0.8" fill="#96703f"/>
<circle cx="201.3" cy="237.0" r="0.6" fill="#4a3320"/>
<circle cx="122.9" cy="224.7" r="1.3" fill="#3f4a26"/>
<circle cx="233.7" cy="282.6" r="1.3" fill="#5e4529"/>
<circle cx="138.6" cy="238.7" r="1.3" fill="#96703f"/>
<circle cx="100.1" cy="307.0" r="0.8" fill="#4a3320"/>
<circle cx="138.7" cy="279.3" r="1.4" fill="#5e4529"/>
<circle cx="175.0" cy="209.6" r="1.0" fill="#5e4529"/>
<circle cx="93.8" cy="227.0" r="1.1" fill="#7d5a32"/>
<circle cx="128.4" cy="278.5" r="1.4" fill="#352a1c"/>
<circle cx="176.1" cy="226.0" r="1.5" fill="#4f5a2e"/>
<circle cx="84.2" cy="237.1" r="1.0" fill="#7d5a32"/>
<circle cx="159.4" cy="199.8" r="0.7" fill="#5e4529"/>
<circle cx="181.3" cy="273.4" r="1.0" fill="#2b2016"/>
<circle cx="158.1" cy="215.0" r="1.0" fill="#62492c"/>
<circle cx="221.7" cy="269.3" r="0.9" fill="#33261a"/>
<circle cx="166.5" cy="233.4" r="1.1" fill="#7d5a32"/>
<circle cx="89.0" cy="216.4" r="1.3" fill="#96703f"/>
<circle cx="135.0" cy="252.2" r="0.9" fill="#96703f"/>
<circle cx="135.7" cy="254.0" r="0.6" fill="#221a12"/>
<circle cx="155.5" cy="314.4" r="1.2" fill="#5e4529"/>
<circle cx="198.3" cy="213.2" r="0.8" fill="#352a1c"/>
<circle cx="162.0" cy="227.4" r="1.1" fill="#2b2016"/>
<circle cx="175.5" cy="212.7" r="1.4" fill="#5e4529"/>
<circle cx="226.4" cy="207.4" r="1.3" fill="#221a12"/>
<circle cx="183.3" cy="272.2" r="1.3" fill="#96703f"/>
<circle cx="208.9" cy="224.6" r="1.2" fill="#7d5a32"/>
<circle cx="130.6" cy="287.6" r="1.1" fill="#96703f"/>
<circle cx="183.6" cy="238.1" r="1.2" fill="#3f4a26"/>
<circle cx="135.5" cy="280.5" r="0.9" fill="#4a3320"/>
<circle cx="240.1" cy="253.8" r="1.4" fill="#96703f"/>
<circle cx="211.5" cy="315.6" r="0.7" fill="#7d5a32"/>
<circle cx="83.2" cy="300.5" r="1.0" fill="#62492c"/>
<circle cx="145.4" cy="288.7" r="1.1" fill="#7d5a32"/>
<circle cx="105.0" cy="282.4" r="1.3" fill="#4f5a2e"/>
<circle cx="170.2" cy="308.5" r="0.7" fill="#96703f"/>
<circle cx="112.4" cy="307.0" r="0.8" fill="#2b2016"/>
<circle cx="174.9" cy="314.5" r="1.5" fill="#96703f"/>
<circle cx="192.4" cy="282.5" r="1.4" fill="#33261a"/>
<circle cx="133.1" cy="217.0" r="1.1" fill="#4f5a2e"/>
<circle cx="203.4" cy="271.2" r="1.2" fill="#221a12"/>
<circle cx="116.9" cy="243.9" r="1.4" fill="#221a12"/>
<circle cx="127.2" cy="256.2" r="0.8" fill="#33261a"/>
<circle cx="199.4" cy="311.6" r="0.6" fill="#2b2016"/>
<circle cx="93.8" cy="294.0" r="0.9" fill="#2b2016"/>
<circle cx="103.9" cy="218.6" r="1.2" fill="#3f4a26"/>
<circle cx="84.4" cy="234.7" r="0.8" fill="#5e4529"/>
<circle cx="134.3" cy="285.9" r="1.0" fill="#4a3320"/>
<circle cx="179.6" cy="292.0" r="0.7" fill="#7d5a32"/>
<circle cx="148.3" cy="201.5" r="1.2" fill="#4a3320"/>
<circle cx="206.2" cy="314.5" r="0.8" fill="#352a1c"/>
<circle cx="156.1" cy="197.6" r="1.1" fill="#96703f"/>
<circle cx="240.0" cy="202.7" r="1.2" fill="#2b2016"/>
<circle cx="215.6" cy="214.8" r="0.7" fill="#5e4529"/>
<circle cx="104.8" cy="288.1" r="0.9" fill="#33261a"/>
<circle cx="139.9" cy="237.3" r="1.1" fill="#4a3320"/>
<circle cx="170.8" cy="274.9" r="1.1" fill="#2b2016"/>
<circle cx="118.8" cy="270.2" r="1.3" fill="#62492c"/>
<circle cx="206.2" cy="233.1" r="1.5" fill="#3f4a26"/>
<circle cx="154.5" cy="229.4" r="1.1" fill="#3f4a26"/>
<circle cx="125.8" cy="226.3" r="1.0" fill="#3f4a26"/>
<circle cx="186.9" cy="288.9" r="0.7" fill="#96703f"/>
<circle cx="182.6" cy="244.1" r="1.4" fill="#33261a"/>
<circle cx="181.9" cy="210.7" r="1.1" fill="#3f4a26"/>
<circle cx="170.8" cy="217.8" r="0.9" fill="#2b2016"/>
<circle cx="105.9" cy="217.3" r="1.1" fill="#7d5a32"/>
<circle cx="138.1" cy="281.2" r="1.5" fill="#62492c"/>
<circle cx="161.8" cy="272.3" r="1.4" fill="#96703f"/>
<circle cx="144.2" cy="221.5" r="0.7" fill="#5e4529"/>
<circle cx="199.3" cy="203.9" r="1.4" fill="#4a3320"/>
<circle cx="189.9" cy="238.1" r="1.1" fill="#221a12"/>
<circle cx="147.6" cy="306.3" r="1.2" fill="#4a3320"/>
<circle cx="117.9" cy="226.2" r="1.2" fill="#4f5a2e"/>
<circle cx="120.7" cy="238.5" r="1.3" fill="#96703f"/>
<circle cx="184.8" cy="231.8" r="0.8" fill="#62492c"/>
<circle cx="173.1" cy="214.8" r="1.5" fill="#4f5a2e"/>
<circle cx="103.8" cy="232.0" r="0.9" fill="#33261a"/>
<circle cx="159.7" cy="302.9" r="0.9" fill="#7d5a32"/>
<circle cx="179.6" cy="310.8" r="1.1" fill="#221a12"/>
<circle cx="223.3" cy="221.2" r="0.6" fill="#96703f"/>
<circle cx="205.8" cy="248.7" r="1.4" fill="#352a1c"/>
<circle cx="241.2" cy="231.7" r="1.3" fill="#5e4529"/>
<circle cx="106.3" cy="305.5" r="1.4" fill="#7d5a32"/>
<circle cx="106.1" cy="284.3" r="1.3" fill="#33261a"/>
<circle cx="156.3" cy="243.7" r="0.9" fill="#352a1c"/>
<circle cx="229.0" cy="282.0" r="1.5" fill="#96703f"/>
<circle cx="87.3" cy="224.2" r="1.2" fill="#4a3320"/>
<circle cx="88.1" cy="256.6" r="1.1" fill="#221a12"/>
<circle cx="193.7" cy="283.4" r="1.5" fill="#5e4529"/>
<circle cx="132.6" cy="301.4" r="1.5" fill="#33261a"/>
<circle cx="237.3" cy="259.0" r="0.8" fill="#5e4529"/>
<circle cx="191.7" cy="213.8" r="1.1" fill="#3f4a26"/>
<circle cx="100.0" cy="238.4" r="1.5" fill="#62492c"/>
<circle cx="94.4" cy="312.5" r="1.3" fill="#221a12"/>
<circle cx="125.7" cy="217.3" r="0.8" fill="#4f5a2e"/>
<circle cx="236.6" cy="219.6" r="1.0" fill="#5e4529"/>
<circle cx="171.1" cy="239.5" r="0.9" fill="#5e4529"/>
<circle cx="88.6" cy="250.4" r="1.1" fill="#4f5a2e"/>
<circle cx="192.4" cy="313.9" r="1.0" fill="#4f5a2e"/>
<circle cx="132.9" cy="246.3" r="0.9" fill="#7d5a32"/>
<circle cx="143.7" cy="245.2" r="1.4" fill="#7d5a32"/>
<circle cx="183.6" cy="224.7" r="1.4" fill="#3f4a26"/>
<circle cx="122.7" cy="269.3" r="1.5" fill="#352a1c"/>
<circle cx="214.1" cy="275.6" r="1.4" fill="#33261a"/>
<circle cx="207.4" cy="305.0" r="1.0" fill="#5e4529"/>
<circle cx="171.4" cy="278.2" r="1.1" fill="#62492c"/>
<circle cx="132.5" cy="312.6" r="1.0" fill="#5e4529"/>
<circle cx="185.6" cy="252.5" r="1.1" fill="#96703f"/>
<circle cx="241.2" cy="224.1" r="1.3" fill="#4a3320"/>
<circle cx="221.1" cy="238.6" r="1.0" fill="#33261a"/>
<circle cx="166.2" cy="269.5" r="1.3" fill="#4a3320"/>
<circle cx="93.5" cy="291.7" r="0.8" fill="#4a3320"/>
<circle cx="180.0" cy="227.8" r="1.4" fill="#62492c"/>
<circle cx="137.6" cy="266.7" r="0.8" fill="#2b2016"/>
<circle cx="104.7" cy="307.3" r="0.9" fill="#3f4a26"/>
<circle cx="114.8" cy="216.3" r="0.8" fill="#96703f"/>
<circle cx="109.6" cy="294.6" r="0.8" fill="#62492c"/>
<circle cx="233.6" cy="298.7" r="1.4" fill="#4a3320"/>
<circle cx="88.9" cy="241.8" r="0.7" fill="#352a1c"/>
<circle cx="106.6" cy="226.2" r="0.9" fill="#33261a"/>
<circle cx="188.1" cy="258.7" r="1.0" fill="#4f5a2e"/>
<circle cx="96.1" cy="243.5" r="1.2" fill="#62492c"/>
<circle cx="153.9" cy="253.4" r="1.3" fill="#7d5a32"/>
<circle cx="106.0" cy="277.6" r="1.0" fill="#96703f"/>
<circle cx="187.6" cy="270.7" r="0.9" fill="#3f4a26"/>
<circle cx="143.0" cy="198.1" r="0.6" fill="#221a12"/>
<circle cx="123.5" cy="266.9" r="1.2" fill="#4f5a2e"/>
<circle cx="125.9" cy="234.9" r="0.8" fill="#221a12"/>
<circle cx="152.1" cy="259.0" r="1.4" fill="#62492c"/>
<circle cx="114.3" cy="246.8" r="1.2" fill="#4f5a2e"/>
<circle cx="141.5" cy="201.3" r="0.9" fill="#62492c"/>
<circle cx="88.7" cy="286.4" r="1.0" fill="#352a1c"/>
<circle cx="179.2" cy="226.8" r="0.9" fill="#221a12"/>
<circle cx="174.6" cy="307.0" r="1.5" fill="#221a12"/>
<circle cx="218.3" cy="265.6" r="1.2" fill="#33261a"/>
<circle cx="134.7" cy="204.5" r="0.9" fill="#62492c"/>
<circle cx="166.1" cy="255.6" r="1.3" fill="#4a3320"/>
<circle cx="86.1" cy="267.1" r="1.4" fill="#62492c"/>
<circle cx="194.2" cy="248.3" r="0.8" fill="#62492c"/>
<circle cx="92.4" cy="243.7" r="1.1" fill="#7d5a32"/>
<circle cx="213.9" cy="276.4" r="1.0" fill="#221a12"/>
<circle cx="88.5" cy="277.6" r="0.9" fill="#3f4a26"/>
<circle cx="144.0" cy="251.2" r="0.8" fill="#33261a"/>
<circle cx="94.3" cy="294.1" r="1.0" fill="#33261a"/>
<circle cx="217.7" cy="221.9" r="0.6" fill="#62492c"/>
<circle cx="191.0" cy="281.3" r="1.4" fill="#62492c"/>
<circle cx="170.1" cy="285.8" r="0.7" fill="#2b2016"/>
<circle cx="147.1" cy="202.0" r="0.7" fill="#4a3320"/>
<circle cx="135.5" cy="258.2" r="0.8" fill="#5e4529"/>
<circle cx="168.2" cy="258.4" r="0.9" fill="#33261a"/>
<circle cx="122.8" cy="299.1" r="1.0" fill="#3f4a26"/>
<circle cx="223.7" cy="277.7" r="0.9" fill="#4f5a2e"/>
<circle cx="220.7" cy="292.2" r="0.8" fill="#3f4a26"/>
<circle cx="114.3" cy="202.3" r="1.2" fill="#3f4a26"/>
<circle cx="231.2" cy="274.8" r="0.7" fill="#2b2016"/>
<circle cx="230.9" cy="237.0" r="1.4" fill="#62492c"/>
<circle cx="171.0" cy="202.1" r="0.6" fill="#96703f"/>
<circle cx="92.8" cy="310.2" r="0.6" fill="#96703f"/>
<circle cx="117.2" cy="248.7" r="1.2" fill="#221a12"/>
<circle cx="210.4" cy="267.1" r="1.0" fill="#62492c"/>
<circle cx="198.4" cy="220.5" r="0.7" fill="#221a12"/>
<circle cx="151.4" cy="272.7" r="0.7" fill="#5e4529"/>
<circle cx="222.8" cy="293.7" r="0.8" fill="#62492c"/>
<circle cx="229.6" cy="263.3" r="1.0" fill="#7d5a32"/>
<circle cx="189.8" cy="277.0" r="1.3" fill="#4f5a2e"/>
<circle cx="167.5" cy="215.1" r="1.1" fill="#221a12"/>
<circle cx="156.5" cy="220.2" r="1.5" fill="#33261a"/>
<circle cx="148.4" cy="275.1" r="1.2" fill="#4f5a2e"/>
<circle cx="152.8" cy="246.9" r="1.4" fill="#5e4529"/>
<circle cx="103.3" cy="215.2" r="0.9" fill="#62492c"/>
<circle cx="119.2" cy="265.8" r="1.2" fill="#96703f"/>
<circle cx="197.1" cy="233.1" r="0.9" fill="#4f5a2e"/>
<circle cx="216.6" cy="214.2" r="1.5" fill="#4a3320"/>
<circle cx="144.6" cy="200.0" r="0.7" fill="#352a1c"/>
<circle cx="128.6" cy="274.6" r="0.8" fill="#33261a"/>
<circle cx="105.8" cy="218.1" r="1.2" fill="#96703f"/>
<circle cx="100.3" cy="295.4" r="1.2" fill="#33261a"/>
<circle cx="115.7" cy="274.7" r="1.1" fill="#3f4a26"/>
<circle cx="128.5" cy="237.8" r="1.4" fill="#62492c"/>
<circle cx="228.1" cy="220.1" r="1.4" fill="#4f5a2e"/>
<circle cx="177.6" cy="260.9" r="0.8" fill="#33261a"/>
<circle cx="157.3" cy="288.1" r="1.1" fill="#221a12"/>
<circle cx="130.0" cy="265.6" r="1.5" fill="#33261a"/>
<circle cx="137.1" cy="309.3" r="0.9" fill="#4a3320"/>
<circle cx="109.5" cy="238.0" r="0.8" fill="#62492c"/>
<circle cx="200.8" cy="217.5" r="1.3" fill="#4f5a2e"/>
<circle cx="197.8" cy="250.6" r="0.7" fill="#3f4a26"/>
<circle cx="107.8" cy="243.2" r="0.6" fill="#5e4529"/>
<circle cx="164.1" cy="207.7" r="1.2" fill="#4a3320"/>
<circle cx="148.5" cy="296.5" r="0.9" fill="#33261a"/>
<circle cx="188.1" cy="215.7" r="1.2" fill="#7d5a32"/>
<circle cx="96.4" cy="196.6" r="1.4" fill="#4a3320"/>
<circle cx="158.8" cy="213.9" r="0.7" fill="#33261a"/>
<circle cx="120.2" cy="214.4" r="1.1" fill="#4f5a2e"/>
<circle cx="100.8" cy="252.1" r="1.1" fill="#7d5a32"/>
<circle cx="88.7" cy="226.7" r="0.9" fill="#221a12"/>
<circle cx="170.8" cy="314.6" r="1.3" fill="#221a12"/>
<circle cx="167.6" cy="224.8" r="0.6" fill="#33261a"/>
<circle cx="232.9" cy="254.6" r="0.8" fill="#2b2016"/>
<circle cx="201.0" cy="206.4" r="0.7" fill="#7d5a32"/>
<circle cx="124.3" cy="199.7" r="1.2" fill="#352a1c"/>
<circle cx="99.5" cy="264.4" r="0.7" fill="#33261a"/>
<circle cx="174.6" cy="224.1" r="1.3" fill="#2b2016"/>
<circle cx="164.1" cy="294.3" r="0.7" fill="#221a12"/>
<circle cx="136.0" cy="207.8" r="1.2" fill="#221a12"/>
<circle cx="192.7" cy="293.8" r="0.7" fill="#96703f"/>
<circle cx="203.5" cy="267.0" r="0.6" fill="#7d5a32"/>
<circle cx="232.4" cy="245.4" r="0.6" fill="#352a1c"/>
<circle cx="208.2" cy="213.8" r="1.2" fill="#3f4a26"/>
<circle cx="106.2" cy="237.3" r="0.8" fill="#7d5a32"/>
<circle cx="230.0" cy="278.3" r="1.5" fill="#33261a"/>
<circle cx="208.7" cy="253.6" r="1.1" fill="#62492c"/>
<circle cx="134.8" cy="204.3" r="1.2" fill="#2b2016"/>
<circle cx="113.8" cy="271.0" r="1.3" fill="#96703f"/>
<circle cx="96.8" cy="282.1" r="1.1" fill="#96703f"/>
<circle cx="210.5" cy="255.1" r="0.7" fill="#62492c"/>
<circle cx="214.5" cy="308.5" r="1.3" fill="#5e4529"/>
<circle cx="215.2" cy="292.3" r="0.7" fill="#2b2016"/>
<circle cx="143.7" cy="272.8" r="0.9" fill="#3f4a26"/>
<circle cx="235.7" cy="259.8" r="0.7" fill="#4a3320"/>
<circle cx="237.0" cy="290.5" r="1.3" fill="#4f5a2e"/>
<circle cx="217.6" cy="224.8" r="1.0" fill="#2b2016"/>
<circle cx="119.9" cy="255.1" r="1.4" fill="#4a3320"/>
<circle cx="90.0" cy="275.6" r="1.3" fill="#352a1c"/>
<circle cx="191.3" cy="309.0" r="1.0" fill="#352a1c"/>
<circle cx="95.9" cy="274.3" r="1.2" fill="#96703f"/>
<circle cx="226.7" cy="247.2" r="0.6" fill="#4f5a2e"/>
<circle cx="160.2" cy="198.0" r="1.4" fill="#33261a"/>
<circle cx="158.1" cy="245.3" r="1.0" fill="#4f5a2e"/>
<circle cx="135.7" cy="221.6" r="1.0" fill="#96703f"/>
<circle cx="156.6" cy="199.9" r="0.7" fill="#96703f"/>
<circle cx="125.4" cy="280.1" r="1.0" fill="#62492c"/>
<circle cx="168.1" cy="225.0" r="1.2" fill="#221a12"/>
<circle cx="88.6" cy="294.8" r="1.0" fill="#7d5a32"/>
<circle cx="135.2" cy="214.1" r="0.8" fill="#7d5a32"/>
<circle cx="224.4" cy="269.2" r="0.9" fill="#352a1c"/>
<circle cx="133.0" cy="301.1" r="0.8" fill="#2b2016"/>
<circle cx="214.9" cy="215.5" r="0.6" fill="#3f4a26"/>
<circle cx="218.6" cy="208.4" r="1.0" fill="#221a12"/>
<circle cx="211.5" cy="226.1" r="1.2" fill="#96703f"/>
<circle cx="239.5" cy="284.1" r="1.2" fill="#3f4a26"/>
<circle cx="103.6" cy="286.4" r="1.2" fill="#4f5a2e"/>
<circle cx="94.1" cy="270.9" r="0.8" fill="#62492c"/>
<circle cx="129.3" cy="232.6" r="1.2" fill="#4a3320"/>
<circle cx="232.1" cy="293.0" r="1.4" fill="#5e4529"/>
<circle cx="161.7" cy="239.6" r="0.7" fill="#5e4529"/>
<circle cx="215.6" cy="278.0" r="0.9" fill="#3f4a26"/>
<circle cx="131.8" cy="257.5" r="1.3" fill="#7d5a32"/>
<circle cx="202.0" cy="200.2" r="1.0" fill="#96703f"/>
<circle cx="83.1" cy="308.4" r="0.7" fill="#4f5a2e"/>
<circle cx="176.0" cy="265.2" r="1.5" fill="#5e4529"/>
<circle cx="109.8" cy="266.7" r="1.2" fill="#4f5a2e"/>
<circle cx="120.7" cy="288.7" r="1.0" fill="#5e4529"/>
<circle cx="238.5" cy="273.9" r="1.2" fill="#4a3320"/>
<circle cx="160.9" cy="313.0" r="1.2" fill="#96703f"/>
<circle cx="126.4" cy="215.4" r="1.0" fill="#2b2016"/>
<circle cx="89.7" cy="259.9" r="0.8" fill="#7d5a32"/>
<circle cx="211.2" cy="203.4" r="1.3" fill="#4f5a2e"/>
<circle cx="109.3" cy="233.4" r="1.1" fill="#5e4529"/>
<circle cx="237.4" cy="289.2" r="1.5" fill="#96703f"/>
<circle cx="111.9" cy="233.1" r="0.8" fill="#62492c"/>
<circle cx="133.3" cy="248.6" r="1.2" fill="#33261a"/>
<circle cx="139.9" cy="234.4" r="0.8" fill="#62492c"/>
<circle cx="114.6" cy="305.1" r="1.1" fill="#62492c"/>
<circle cx="147.3" cy="215.2" r="0.6" fill="#96703f"/>
<circle cx="126.6" cy="260.3" r="1.1" fill="#4a3320"/>
<circle cx="189.3" cy="286.3" r="1.0" fill="#4f5a2e"/>
<circle cx="196.8" cy="243.5" r="1.4" fill="#4f5a2e"/>
<circle cx="101.4" cy="250.0" r="0.6" fill="#5e4529"/>
<circle cx="214.3" cy="264.0" r="1.1" fill="#96703f"/>
<circle cx="139.6" cy="313.7" r="1.4" fill="#33261a"/>
<circle cx="97.4" cy="268.3" r="1.4" fill="#352a1c"/>
<circle cx="195.9" cy="307.6" r="1.2" fill="#7d5a32"/>
<circle cx="236.8" cy="272.1" r="1.3" fill="#33261a"/>
<circle cx="145.1" cy="308.8" r="1.0" fill="#96703f"/>
<circle cx="162.0" cy="236.4" r="1.2" fill="#7d5a32"/>
<circle cx="104.9" cy="284.3" r="1.2" fill="#352a1c"/>
<circle cx="226.2" cy="212.0" r="1.2" fill="#96703f"/>
<circle cx="229.9" cy="204.0" r="1.4" fill="#5e4529"/>
<circle cx="188.8" cy="265.3" r="0.8" fill="#352a1c"/>
<circle cx="198.6" cy="290.2" r="1.3" fill="#4a3320"/>
<circle cx="216.1" cy="214.1" r="1.4" fill="#4a3320"/>
<circle cx="120.2" cy="211.0" r="1.4" fill="#4f5a2e"/>
<circle cx="200.9" cy="294.5" r="0.9" fill="#4a3320"/>
<circle cx="128.0" cy="273.7" r="1.2" fill="#352a1c"/>
<circle cx="126.0" cy="204.1" r="1.1" fill="#2b2016"/>
<circle cx="163.5" cy="268.9" r="0.9" fill="#221a12"/>
<circle cx="139.6" cy="264.3" r="0.9" fill="#33261a"/>
<circle cx="193.9" cy="204.7" r="0.8" fill="#96703f"/>
<circle cx="155.2" cy="287.7" r="0.8" fill="#62492c"/>
<circle cx="91.5" cy="249.5" r="1.1" fill="#3f4a26"/>
<circle cx="87.2" cy="260.5" r="0.7" fill="#62492c"/>
<circle cx="117.9" cy="271.5" r="1.5" fill="#96703f"/>
<circle cx="166.9" cy="223.6" r="1.3" fill="#3f4a26"/>
<circle cx="115.4" cy="296.7" r="1.1" fill="#2b2016"/>
<circle cx="86.9" cy="289.4" r="1.3" fill="#5e4529"/>
<circle cx="124.9" cy="240.9" r="0.8" fill="#4a3320"/>
<circle cx="96.3" cy="209.5" r="1.1" fill="#352a1c"/>
<circle cx="176.2" cy="223.2" r="1.3" fill="#5e4529"/>
<circle cx="235.8" cy="235.5" r="0.7" fill="#4f5a2e"/>
<circle cx="158.5" cy="212.0" r="1.5" fill="#62492c"/>
<circle cx="222.9" cy="270.1" r="0.9" fill="#221a12"/>
<circle cx="112.4" cy="244.3" r="1.3" fill="#4f5a2e"/>
<circle cx="94.2" cy="303.7" r="1.0" fill="#5e4529"/>
<circle cx="113.6" cy="280.4" r="1.3" fill="#221a12"/>
<circle cx="114.2" cy="286.7" r="1.3" fill="#4f5a2e"/>
<circle cx="233.7" cy="306.4" r="1.2" fill="#2b2016"/>
<circle cx="92.0" cy="220.7" r="1.4" fill="#5e4529"/>
<circle cx="184.7" cy="285.7" r="0.8" fill="#3f4a26"/>
<circle cx="138.9" cy="215.6" r="0.9" fill="#4a3320"/>
<circle cx="138.7" cy="208.6" r="1.2" fill="#7d5a32"/>
<circle cx="149.4" cy="199.5" r="1.3" fill="#62492c"/>
<circle cx="136.9" cy="299.0" r="1.3" fill="#96703f"/>
<circle cx="157.4" cy="314.9" r="1.3" fill="#96703f"/>
<circle cx="158.2" cy="294.6" r="1.4" fill="#7d5a32"/>
<circle cx="166.5" cy="226.1" r="0.8" fill="#352a1c"/>
<circle cx="122.3" cy="198.5" r="1.2" fill="#221a12"/>
<circle cx="233.3" cy="313.7" r="1.3" fill="#352a1c"/>
<circle cx="198.1" cy="215.3" r="0.7" fill="#352a1c"/>
<circle cx="84.1" cy="221.7" r="1.1" fill="#2b2016"/>
<circle cx="86.4" cy="293.6" r="1.0" fill="#33261a"/>
<circle cx="88.9" cy="302.7" r="1.4" fill="#3f4a26"/>
<circle cx="219.4" cy="236.6" r="1.4" fill="#3f4a26"/>
<circle cx="159.5" cy="272.7" r="0.6" fill="#221a12"/>
<circle cx="114.7" cy="238.6" r="0.7" fill="#33261a"/>
<circle cx="222.4" cy="309.4" r="1.0" fill="#62492c"/>
<circle cx="175.7" cy="272.4" r="1.3" fill="#62492c"/>
<circle cx="173.2" cy="282.3" r="0.8" fill="#62492c"/>
<circle cx="186.3" cy="299.4" r="1.2" fill="#221a12"/>
<circle cx="157.1" cy="301.7" r="0.7" fill="#2b2016"/>
<circle cx="227.4" cy="267.9" r="1.2" fill="#33261a"/>
<circle cx="210.0" cy="302.7" r="1.0" fill="#5e4529"/>
<circle cx="208.1" cy="294.9" r="1.3" fill="#4a3320"/>
<circle cx="185.6" cy="225.1" r="1.3" fill="#221a12"/>
<circle cx="88.1" cy="201.8" r="1.4" fill="#221a12"/>
<circle cx="235.5" cy="289.0" r="1.4" fill="#5e4529"/>
<circle cx="184.2" cy="306.3" r="0.6" fill="#4f5a2e"/>
<circle cx="156.9" cy="253.5" r="1.3" fill="#33261a"/>
<circle cx="223.2" cy="207.6" r="1.3" fill="#7d5a32"/>
<circle cx="108.1" cy="257.5" r="1.1" fill="#33261a"/>
<circle cx="235.1" cy="241.8" r="0.7" fill="#5e4529"/>
<circle cx="86.8" cy="273.8" r="1.1" fill="#33261a"/>
<circle cx="181.2" cy="267.3" r="0.7" fill="#3f4a26"/>
<circle cx="90.7" cy="261.5" r="1.0" fill="#4f5a2e"/>
<circle cx="189.3" cy="263.2" r="0.6" fill="#221a12"/>
<circle cx="214.7" cy="293.4" r="0.8" fill="#62492c"/>
<circle cx="195.3" cy="284.3" r="1.0" fill="#4a3320"/>
<circle cx="99.7" cy="313.2" r="1.1" fill="#3f4a26"/>
<circle cx="190.4" cy="206.5" r="1.4" fill="#221a12"/>
<circle cx="217.7" cy="208.2" r="0.8" fill="#96703f"/>
<circle cx="131.5" cy="231.5" r="1.1" fill="#62492c"/>
<circle cx="238.6" cy="288.3" r="0.7" fill="#5e4529"/>
<circle cx="89.0" cy="277.9" r="0.8" fill="#2b2016"/>
<circle cx="143.7" cy="314.0" r="1.1" fill="#2b2016"/>
<circle cx="115.7" cy="287.0" r="1.4" fill="#33261a"/>
<circle cx="216.0" cy="282.0" r="1.2" fill="#5e4529"/>
<circle cx="103.6" cy="305.3" r="0.8" fill="#5e4529"/>
<circle cx="232.8" cy="249.0" r="0.8" fill="#7d5a32"/>
<circle cx="130.1" cy="237.8" r="0.9" fill="#96703f"/>
<circle cx="107.9" cy="215.6" r="1.2" fill="#4a3320"/>
<circle cx="157.7" cy="270.8" r="0.8" fill="#96703f"/>
<circle cx="122.0" cy="245.5" r="0.9" fill="#5e4529"/>
<circle cx="169.0" cy="238.8" r="0.6" fill="#96703f"/>
<circle cx="205.4" cy="224.7" r="1.3" fill="#96703f"/>
<circle cx="167.1" cy="208.6" r="1.0" fill="#96703f"/>
<circle cx="135.9" cy="203.7" r="1.5" fill="#33261a"/>
<circle cx="107.8" cy="259.7" r="1.2" fill="#4a3320"/>
<circle cx="121.2" cy="306.1" r="1.2" fill="#3f4a26"/>
<circle cx="236.8" cy="206.8" r="0.8" fill="#221a12"/>
<circle cx="202.8" cy="302.3" r="1.0" fill="#4f5a2e"/>
<circle cx="100.9" cy="309.7" r="1.0" fill="#2b2016"/>
<circle cx="191.9" cy="278.9" r="1.3" fill="#4f5a2e"/>
<circle cx="121.8" cy="226.9" r="0.7" fill="#5e4529"/>
<circle cx="220.6" cy="272.9" r="1.5" fill="#2b2016"/>
<circle cx="184.9" cy="266.9" r="0.7" fill="#4a3320"/>
<circle cx="92.9" cy="242.9" r="0.7" fill="#33261a"/>
<circle cx="92.7" cy="197.7" r="0.7" fill="#96703f"/>
<circle cx="171.2" cy="282.7" r="1.5" fill="#4a3320"/>
<circle cx="192.0" cy="228.8" r="0.8" fill="#62492c"/>
<circle cx="98.0" cy="232.4" r="1.2" fill="#352a1c"/>
<circle cx="109.7" cy="314.7" r="1.4" fill="#33261a"/>
<circle cx="155.7" cy="234.7" r="0.6" fill="#221a12"/>
<circle cx="214.6" cy="223.2" r="1.3" fill="#221a12"/>
<circle cx="189.3" cy="229.3" r="1.4" fill="#5e4529"/>
<circle cx="93.6" cy="206.7" r="1.2" fill="#4a3320"/>
<circle cx="131.9" cy="227.6" r="0.7" fill="#5e4529"/>
<circle cx="97.5" cy="313.9" r="0.8" fill="#352a1c"/>
<circle cx="96.2" cy="266.0" r="0.7" fill="#5e4529"/>
<circle cx="84.4" cy="298.3" r="1.4" fill="#7d5a32"/>
<circle cx="138.9" cy="261.1" r="0.7" fill="#7d5a32"/>
<circle cx="208.1" cy="226.2" r="0.7" fill="#96703f"/>
<circle cx="188.1" cy="300.7" r="0.9" fill="#7d5a32"/>
<circle cx="142.9" cy="287.8" r="1.2" fill="#221a12"/>
<circle cx="223.9" cy="287.5" r="0.8" fill="#96703f"/>
<circle cx="224.9" cy="227.6" r="0.6" fill="#5e4529"/>
<circle cx="188.2" cy="296.4" r="0.9" fill="#221a12"/>
<circle cx="157.6" cy="254.5" r="1.0" fill="#33261a"/>
<circle cx="195.8" cy="207.2" r="1.0" fill="#33261a"/>
<circle cx="229.7" cy="305.2" r="1.0" fill="#352a1c"/>
<circle cx="100.9" cy="204.1" r="1.0" fill="#96703f"/>
<circle cx="120.3" cy="236.6" r="0.7" fill="#5e4529"/>
<circle cx="117.6" cy="285.3" r="1.2" fill="#2b2016"/>
<circle cx="242.0" cy="307.4" r="0.7" fill="#352a1c"/>
<circle cx="233.0" cy="259.0" r="1.1" fill="#221a12"/>
<circle cx="163.7" cy="234.0" r="0.7" fill="#33261a"/>
<circle cx="124.4" cy="306.9" r="1.3" fill="#62492c"/>
<circle cx="103.1" cy="292.8" r="0.9" fill="#4a3320"/>
<circle cx="114.9" cy="275.6" r="0.7" fill="#96703f"/>
<circle cx="194.6" cy="253.0" r="0.8" fill="#4f5a2e"/>
<circle cx="83.7" cy="274.4" r="1.4" fill="#3f4a26"/>
<circle cx="185.0" cy="278.4" r="1.1" fill="#5e4529"/>
<circle cx="119.5" cy="255.9" r="0.7" fill="#2b2016"/>
<circle cx="140.3" cy="242.5" r="1.3" fill="#96703f"/>
<circle cx="219.2" cy="240.1" r="0.8" fill="#4a3320"/>
<circle cx="118.3" cy="267.8" r="1.0" fill="#33261a"/>
<circle cx="218.0" cy="230.2" r="1.4" fill="#7d5a32"/>
<circle cx="130.7" cy="233.7" r="1.4" fill="#221a12"/>
<circle cx="146.3" cy="277.5" r="0.9" fill="#5e4529"/>
<circle cx="159.5" cy="203.9" r="1.1" fill="#96703f"/>
<circle cx="233.7" cy="255.1" r="1.2" fill="#221a12"/>
<circle cx="116.6" cy="296.1" r="0.9" fill="#221a12"/>
<circle cx="207.5" cy="228.5" r="0.6" fill="#96703f"/>
<circle cx="110.4" cy="245.6" r="1.1" fill="#5e4529"/>
<circle cx="205.2" cy="224.6" r="0.7" fill="#5e4529"/>
<circle cx="211.9" cy="268.8" r="1.1" fill="#62492c"/>
<circle cx="195.9" cy="212.5" r="1.1" fill="#221a12"/>
<circle cx="125.8" cy="245.9" r="1.5" fill="#7d5a32"/>
<circle cx="103.6" cy="234.5" r="0.8" fill="#5e4529"/>
<circle cx="149.7" cy="205.6" r="1.3" fill="#62492c"/>
<circle cx="122.5" cy="264.4" r="1.4" fill="#221a12"/>
<circle cx="235.1" cy="228.3" r="0.7" fill="#352a1c"/>
<circle cx="151.7" cy="294.4" r="1.4" fill="#5e4529"/>
<circle cx="93.3" cy="286.4" r="1.4" fill="#7d5a32"/>
<circle cx="149.2" cy="259.5" r="1.3" fill="#4f5a2e"/>
<circle cx="186.5" cy="257.5" r="1.0" fill="#33261a"/>
<circle cx="161.9" cy="259.6" r="1.3" fill="#4a3320"/>
<circle cx="225.8" cy="311.5" r="1.0" fill="#221a12"/>
<circle cx="176.7" cy="226.4" r="0.8" fill="#352a1c"/>
<circle cx="192.7" cy="226.7" r="1.0" fill="#221a12"/>
<circle cx="235.0" cy="226.9" r="1.2" fill="#33261a"/>
<circle cx="91.1" cy="277.9" r="1.2" fill="#221a12"/>
<circle cx="209.9" cy="197.2" r="0.9" fill="#62492c"/>
<circle cx="203.7" cy="310.7" r="1.0" fill="#7d5a32"/>
<circle cx="133.9" cy="312.5" r="0.7" fill="#352a1c"/>
<circle cx="237.4" cy="261.1" r="1.5" fill="#352a1c"/>
<circle cx="226.0" cy="223.9" r="0.9" fill="#96703f"/>
<circle cx="161.1" cy="239.8" r="1.2" fill="#221a12"/>
<circle cx="222.6" cy="209.6" r="0.7" fill="#3f4a26"/>
<circle cx="147.0" cy="246.5" r="1.0" fill="#33261a"/>
<circle cx="154.7" cy="235.8" r="0.9" fill="#3f4a26"/>
<circle cx="194.7" cy="248.5" r="1.3" fill="#7d5a32"/>
<circle cx="192.9" cy="277.2" r="1.0" fill="#7d5a32"/>
<circle cx="100.7" cy="271.5" r="1.4" fill="#4f5a2e"/>
<circle cx="184.7" cy="272.2" r="1.5" fill="#2b2016"/>
<circle cx="113.4" cy="287.9" r="1.2" fill="#4f5a2e"/>
<circle cx="108.1" cy="203.8" r="1.4" fill="#62492c"/>
<circle cx="222.0" cy="266.7" r="1.4" fill="#221a12"/>
<circle cx="177.3" cy="245.5" r="0.8" fill="#3f4a26"/>
<circle cx="93.2" cy="196.6" r="0.7" fill="#7d5a32"/>
<circle cx="121.8" cy="216.8" r="0.8" fill="#7d5a32"/>
<circle cx="195.8" cy="314.5" r="0.6" fill="#5e4529"/>
<circle cx="95.2" cy="206.6" r="0.7" fill="#221a12"/>
<circle cx="135.7" cy="258.7" r="0.9" fill="#96703f"/>
<circle cx="201.6" cy="301.0" r="0.6" fill="#96703f"/>
<circle cx="95.4" cy="215.5" r="0.7" fill="#33261a"/>
<circle cx="90.4" cy="312.8" r="1.3" fill="#7d5a32"/>
<circle cx="198.6" cy="237.0" r="0.7" fill="#62492c"/>
<circle cx="178.8" cy="314.7" r="1.3" fill="#5e4529"/>
<circle cx="216.2" cy="246.7" r="1.2" fill="#4f5a2e"/>
<circle cx="118.7" cy="291.7" r="0.7" fill="#62492c"/>
<circle cx="175.8" cy="219.0" r="1.3" fill="#62492c"/>
<circle cx="208.6" cy="223.7" r="1.3" fill="#33261a"/>
<circle cx="157.5" cy="248.3" r="0.8" fill="#5e4529"/>
<circle cx="175.2" cy="208.9" r="1.0" fill="#4a3320"/>
<circle cx="202.1" cy="256.2" r="1.1" fill="#3f4a26"/>
<circle cx="197.9" cy="199.7" r="0.8" fill="#5e4529"/>
<circle cx="128.5" cy="272.8" r="1.2" fill="#62492c"/>
<circle cx="226.3" cy="220.6" r="1.5" fill="#4f5a2e"/>
<circle cx="225.8" cy="211.7" r="0.8" fill="#5e4529"/>
<circle cx="205.4" cy="295.2" r="1.5" fill="#4a3320"/>
<circle cx="209.1" cy="233.2" r="1.1" fill="#96703f"/>
<circle cx="131.0" cy="289.0" r="0.7" fill="#96703f"/>
<circle cx="89.9" cy="257.6" r="0.8" fill="#7d5a32"/>
<circle cx="182.7" cy="225.4" r="0.8" fill="#5e4529"/>
<circle cx="101.1" cy="256.8" r="1.4" fill="#3f4a26"/>
<circle cx="191.7" cy="253.2" r="1.3" fill="#4f5a2e"/>
<circle cx="99.0" cy="204.4" r="1.0" fill="#352a1c"/>
<circle cx="92.7" cy="292.4" r="0.8" fill="#3f4a26"/>
<circle cx="132.9" cy="253.2" r="1.3" fill="#352a1c"/>
<circle cx="141.5" cy="249.6" r="1.2" fill="#96703f"/>
<circle cx="98.8" cy="250.7" r="1.4" fill="#4a3320"/>
<circle cx="103.3" cy="299.0" r="0.7" fill="#3f4a26"/>
<circle cx="156.5" cy="270.3" r="1.2" fill="#4f5a2e"/>
<circle cx="218.4" cy="275.3" r="1.0" fill="#96703f"/>
<circle cx="95.7" cy="243.3" r="1.2" fill="#33261a"/>
<circle cx="199.8" cy="199.8" r="0.7" fill="#4a3320"/>
<circle cx="87.0" cy="193.2" r="1.2" fill="#3f5a2c"/>
<circle cx="100.9" cy="208.3" r="1.4" fill="#6c8a45"/>
<circle cx="105.4" cy="209.2" r="1.5" fill="#5b7a3a"/>
<circle cx="109.0" cy="210.6" r="1.8" fill="#5b7a3a"/>
<circle cx="91.3" cy="223.3" r="2.3" fill="#6c8a45"/>
<circle cx="97.2" cy="233.0" r="1.9" fill="#6c8a45"/>
<circle cx="105.2" cy="207.7" r="1.3" fill="#5b7a3a"/>
<circle cx="105.0" cy="231.2" r="1.7" fill="#3f5a2c"/>
<circle cx="93.5" cy="201.2" r="1.4" fill="#6c8a45"/>
<circle cx="106.8" cy="221.3" r="2.5" fill="#3f5a2c"/>
<circle cx="93.0" cy="197.8" r="2.1" fill="#6c8a45"/>
<circle cx="103.1" cy="219.7" r="1.1" fill="#5b7a3a"/>
<circle cx="108.2" cy="215.9" r="1.0" fill="#6c8a45"/>
<circle cx="101.0" cy="230.5" r="2.4" fill="#6c8a45"/>
<circle cx="90.4" cy="204.3" r="2.3" fill="#6c8a45"/>
<circle cx="92.4" cy="217.8" r="1.6" fill="#6c8a45"/>
<circle cx="87.1" cy="200.2" r="2.4" fill="#6c8a45"/>
<circle cx="105.2" cy="224.6" r="1.9" fill="#5b7a3a"/>
<circle cx="106.9" cy="219.0" r="1.1" fill="#3f5a2c"/>
<circle cx="88.8" cy="196.8" r="1.5" fill="#3f5a2c"/>
<circle cx="102.4" cy="207.1" r="2.3" fill="#5b7a3a"/>
<circle cx="90.7" cy="222.1" r="2.0" fill="#5b7a3a"/>
<circle cx="93.7" cy="228.0" r="2.3" fill="#5b7a3a"/>
<circle cx="108.0" cy="233.0" r="2.3" fill="#3f5a2c"/>
<circle cx="102.3" cy="192.2" r="2.3" fill="#3f5a2c"/>
<circle cx="111.4" cy="232.6" r="1.7" fill="#6c8a45"/>
<circle cx="105.9" cy="229.1" r="1.3" fill="#6c8a45"/>
<circle cx="94.1" cy="192.9" r="1.2" fill="#5b7a3a"/>
<circle cx="109.3" cy="191.2" r="1.6" fill="#3f5a2c"/>
<circle cx="85.9" cy="223.3" r="1.3" fill="#6c8a45"/>
<circle cx="101.9" cy="204.0" r="1.7" fill="#6c8a45"/>
<circle cx="92.7" cy="218.5" r="2.3" fill="#6c8a45"/>
<circle cx="92.9" cy="205.5" r="2.3" fill="#3f5a2c"/>
<circle cx="108.5" cy="215.8" r="1.2" fill="#3f5a2c"/>
<circle cx="111.9" cy="230.3" r="1.1" fill="#6c8a45"/>
<circle cx="95.7" cy="229.6" r="2.0" fill="#5b7a3a"/>
<circle cx="89.8" cy="214.4" r="2.4" fill="#3f5a2c"/>
<circle cx="103.5" cy="195.6" r="2.4" fill="#5b7a3a"/>
<circle cx="96.9" cy="215.6" r="1.0" fill="#5b7a3a"/>
<circle cx="96.0" cy="194.2" r="1.8" fill="#3f5a2c"/>
<polygon points="80.0,236.0 87.0,236.0 88.0,255.0 82.0,258.0" fill="#716d69" />
<polygon points="80.0,210.0 86.0,206.0 88.0,236.0 80.0,238.0" fill="#5f5a55" />
<polygon points="80.0,254.0 90.0,249.0 86.0,262.0 80.0,268.0" fill="#9a5b2b" />
<polygon points="187.1,156.0 198.8,156.0 198.8,186.7 194.3,192.0 189.0,173.6" fill="#8b766b" />
<polygon points="202.1,163.8 213.0,156.0 246.0,156.0 246.0,186.0 234.0,190.5" fill="#a9aeb3" />
<polygon points="202.1,163.8 234.0,190.5 246.0,186.0 246.0,194.0 233.5,197.5 201.5,166.0" fill="#c3c9c3" />
<polygon points="222.0,186.0 234.0,197.0 246.0,193.0 246.0,222.0 224.0,208.0" fill="#245f4c" />
<polygon points="224.5,205.0 246.0,220.0 246.0,292.0 238.7,291.0 226.0,262.0 225.0,236.0" fill="#ad5e28" />
<polygon points="220.5,207.0 225.0,205.0 226.0,262.0 222.0,250.0" fill="#8f8a82" />
<polygon points="226.0,216.0 240.0,224.0 241.0,234.0 227.0,226.0" fill="#9b9a94" />
<polygon points="223.0,262.0 230.0,270.0 242.0,300.0 246.0,316.0 236.0,310.0 226.0,275.0" fill="#1b1d22" />
<circle cx="235.2" cy="299.6" r="1.3" fill="#3f7a32"/>
<circle cx="224.9" cy="312.2" r="2.3" fill="#24481f"/>
<circle cx="223.8" cy="306.3" r="1.1" fill="#24481f"/>
<circle cx="224.6" cy="298.2" r="1.4" fill="#2f5f28"/>
<circle cx="229.8" cy="309.1" r="1.0" fill="#2f5f28"/>
<circle cx="231.9" cy="300.1" r="2.1" fill="#2f5f28"/>
<circle cx="224.3" cy="312.8" r="1.7" fill="#3f7a32"/>
<circle cx="236.6" cy="299.7" r="2.2" fill="#2f5f28"/>
<circle cx="230.1" cy="312.6" r="2.1" fill="#2f5f28"/>
<circle cx="230.2" cy="313.4" r="1.7" fill="#2f5f28"/>
<circle cx="223.8" cy="301.5" r="1.0" fill="#2f5f28"/>
<circle cx="231.8" cy="297.2" r="1.4" fill="#24481f"/>
<circle cx="224.9" cy="306.1" r="1.1" fill="#3f7a32"/>
<circle cx="235.4" cy="312.7" r="1.2" fill="#2f5f28"/>
<circle cx="230.7" cy="296.6" r="2.1" fill="#2f5f28"/>
<circle cx="231.9" cy="312.7" r="1.3" fill="#3f7a32"/>
<circle cx="234.5" cy="308.1" r="1.9" fill="#56913f"/>
<circle cx="236.0" cy="301.2" r="1.7" fill="#24481f"/>
<circle cx="238.0" cy="301.6" r="1.1" fill="#3f7a32"/>
<circle cx="237.2" cy="304.4" r="1.5" fill="#56913f"/>
<circle cx="229.3" cy="306.3" r="2.3" fill="#56913f"/>
<circle cx="228.3" cy="308.3" r="2.3" fill="#2f5f28"/>
<circle cx="223.9" cy="300.8" r="1.8" fill="#56913f"/>
<circle cx="226.6" cy="306.2" r="1.6" fill="#2f5f28"/>
<circle cx="224.5" cy="298.6" r="1.7" fill="#2f5f28"/>
<circle cx="228.5" cy="311.2" r="2.0" fill="#24481f"/>
<circle cx="229.5" cy="297.7" r="1.7" fill="#24481f"/>
<circle cx="231.7" cy="294.5" r="1.2" fill="#3f7a32"/>
<circle cx="227.3" cy="300.2" r="1.1" fill="#3f7a32"/>
<circle cx="227.4" cy="301.2" r="1.5" fill="#24481f"/>
<circle cx="232.6" cy="302.2" r="2.1" fill="#3f7a32"/>
<circle cx="221.7" cy="309.8" r="1.6" fill="#24481f"/>
<circle cx="238.1" cy="305.9" r="1.2" fill="#3f7a32"/>
<circle cx="238.1" cy="294.5" r="1.5" fill="#24481f"/>
<circle cx="235.2" cy="305.2" r="1.9" fill="#56913f"/>
<circle cx="235.4" cy="294.8" r="1.7" fill="#2f5f28"/>
<circle cx="226.1" cy="294.3" r="2.2" fill="#3f7a32"/>
<circle cx="232.1" cy="310.4" r="1.6" fill="#56913f"/>
<circle cx="227.5" cy="312.5" r="1.5" fill="#56913f"/>
<circle cx="232.5" cy="302.4" r="1.4" fill="#24481f"/>
<circle cx="232.0" cy="304.6" r="2.1" fill="#3f7a32"/>
<circle cx="227.7" cy="300.3" r="1.5" fill="#3f7a32"/>
<circle cx="226.0" cy="299.0" r="2.1" fill="#2f5f28"/>
<circle cx="237.9" cy="300.1" r="1.1" fill="#2f5f28"/>
<circle cx="222.1" cy="310.3" r="1.2" fill="#2f5f28"/>
<polygon points="80.0,262.5 96.3,258.2 98.2,267.4 92.4,288.3 80.0,306.0" fill="#1b1d23" />
<polygon points="110.7,259.5 119.8,256.9 206.0,256.9 219.7,305.2 219.7,318.0 92.4,318.0 92.4,309.2 104.1,275.2" fill="url(#gTarp)" />
<polygon points="196.0,262.0 205.0,262.0 214.0,300.0 200.0,303.0" fill="#1e1d1d" />
<polygon points="95.5,274.5 104.1,273.9 103.5,286.0 93.5,286.5" fill="#c9a55e" />
<polygon points="212.6,272.3 222.0,271.9 223.7,282.6 214.5,283.3" fill="#cfa95c" />
<polygon points="98.0,299.5 108.7,298.3 107.5,303.2 97.6,304.0" fill="#d9d2c3" />
<polygon points="114.8,224.5 196.0,225.0 194.3,305.2 186.5,305.4 186.3,302.8 130.5,306.0 130.3,309.0 123.1,308.8" fill="url(#gBlue)" />
<polygon points="114.8,224.5 120.0,224.6 127.0,308.8 123.1,308.8" fill="#1a30d0" />
<ellipse cx="154" cy="232.5" rx="15" ry="3.6" fill="#3a55f2"/>
<path d="M138 230.2 Q154 226.5 171 230.2" stroke="#0c189a" stroke-width="1.6" fill="none"/>
<path d="M118 246H195" stroke="#1020b8" stroke-width="1" opacity=".55"/>
<path d="M118 262H195" stroke="#1020b8" stroke-width="1" opacity=".55"/>
<path d="M118 278H195" stroke="#1020b8" stroke-width="1" opacity=".55"/>
<path d="M118 293H195" stroke="#1020b8" stroke-width="1" opacity=".55"/>
<polygon points="125.7,166.4 185.8,166.4 196.6,195.8 110.7,195.8" fill="#8d9997" />
<polygon points="110.7,195.8 196.9,195.8 196.2,225.6 113.9,225.0" fill="url(#gMetal)" />
<path d="M110.7 196H196.9" stroke="#e8ede6" stroke-width="1.3"/>
<polygon points="139.4,167.7 169.4,166.2 176.0,169.0 175.3,172.5 166.8,192.8 122.4,190.2 121.1,186.0" fill="#d8a862" />
<polygon points="121.1,186.0 166.5,189.0 175.3,170.0 175.3,172.5 166.8,192.8 122.4,190.2" fill="#c08a48" />
<polygon points="141.0,181.0 146.0,177.5 151.0,183.0 150.0,189.0 137.0,188.0" fill="#b98448" />
</g><rect x="82" y="158" width="160" height="158" filter="url(#pn)" opacity=".5" style="mix-blend-mode:overlay"/></g>
<text class="ral" x="25.6" y="386.1" font-size="31" textLength="74.6" lengthAdjust="spacingAndGlyphs">Frère</text>
<text class="ral" x="26" y="429.5" font-size="31" textLength="86" lengthAdjust="spacingAndGlyphs">Adam</text>
<circle cx="180.4" cy="371.7" r="17.6" fill="#4040ff" stroke="#6b8e23" stroke-width="2"/>
<path d="M97.6 508.3h21.4v18.6a2.2 2.2 0 0 1-2.2 2.2h-17a2.2 2.2 0 0 1-2.2-2.2z M96.4 501.8h8.4v-2.2h7.4v2.2h8v4.2h-23.8z" fill="#333"/>
<text class="ral" x="128.4" y="529.1" font-size="30.5" textLength="42.2" lengthAdjust="spacingAndGlyphs">10</text>
<text class="ral" x="180.8" y="529.1" font-size="41.2" textLength="47.5" lengthAdjust="spacingAndGlyphs">Kg</text>
</g>
<!--CHART-->
<g id="chart">
<path d="M488.3 155H1610.8" stroke="#e6e6e6" stroke-width="2" fill="none"/>
<path d="M488.3 235H1610.8" stroke="#e6e6e6" stroke-width="2" fill="none"/>
<path d="M488.3 314H1610.8" stroke="#e6e6e6" stroke-width="2" fill="none"/>
<path d="M488.3 391.2H1610.8" stroke="#e6e6e6" stroke-width="1.6" fill="none"/>
<path d="M488.3 470H1610.8" stroke="#ccd6eb" stroke-width="1.5" fill="none"/>
<path d="M630.1 470V482" stroke="#ccd6eb" stroke-width="1.4" fill="none"/>
<path d="M780.3 470V482" stroke="#ccd6eb" stroke-width="1.4" fill="none"/>
<path d="M930.5 470V482" stroke="#ccd6eb" stroke-width="1.4" fill="none"/>
<path d="M1080.8 470V482" stroke="#ccd6eb" stroke-width="1.4" fill="none"/>
<path d="M1231.0 470V482" stroke="#ccd6eb" stroke-width="1.4" fill="none"/>
<path d="M1381.2 470V482" stroke="#ccd6eb" stroke-width="1.4" fill="none"/>
<path d="M1531.4 470V482" stroke="#ccd6eb" stroke-width="1.4" fill="none"/>
<text x="1094.5" y="97" text-anchor="middle" font-family="DejaVu Sans, Liberation Sans, sans-serif" font-size="23.4" fill="#333" textLength="27.6" lengthAdjust="spacingAndGlyphs">70</text>
<text x="1094.5" y="132" text-anchor="middle" font-family="DejaVu Sans, Liberation Sans, sans-serif" font-size="15.2" fill="#666" textLength="241.5" lengthAdjust="spacingAndGlyphs">Cliquer et déplacer pour zommer</text>
<text class="ax" x="470" y="161.0" text-anchor="end" textLength="31" lengthAdjust="spacingAndGlyphs">99 %</text>
<text class="ax" x="470" y="239.5" text-anchor="end" textLength="44" lengthAdjust="spacingAndGlyphs">97.5 %</text>
<text class="ax" x="470" y="317.9" text-anchor="end" textLength="31" lengthAdjust="spacingAndGlyphs">96 %</text>
<text class="ax" x="470" y="396.4" text-anchor="end" textLength="44" lengthAdjust="spacingAndGlyphs">94.5 %</text>
<text class="ax" x="470" y="474.8" text-anchor="end" textLength="31" lengthAdjust="spacingAndGlyphs">93 %</text>
<text class="ax" x="1630" y="161.0" textLength="25" lengthAdjust="spacingAndGlyphs">30 °</text>
<text class="ax" x="1630" y="239.5" textLength="25" lengthAdjust="spacingAndGlyphs">20 °</text>
<text class="ax" x="1630" y="317.9" textLength="25" lengthAdjust="spacingAndGlyphs">10 °</text>
<text class="ax" x="1630" y="396.4" textLength="16.5" lengthAdjust="spacingAndGlyphs">0 °</text>
<text class="ax" x="1630" y="474.8" textLength="33.5" lengthAdjust="spacingAndGlyphs">−10 °</text>
<text class="ax" x="1717.7" y="161.0" textLength="44" lengthAdjust="spacingAndGlyphs">32 kgs</text>
<text class="ax" x="1717.7" y="239.5" textLength="44" lengthAdjust="spacingAndGlyphs">24 kgs</text>
<text class="ax" x="1717.7" y="317.9" textLength="44" lengthAdjust="spacingAndGlyphs">16 kgs</text>
<text class="ax" x="1717.7" y="396.4" textLength="35.6" lengthAdjust="spacingAndGlyphs">8 kgs</text>
<text class="ax" x="1717.7" y="474.8" textLength="35.6" lengthAdjust="spacingAndGlyphs">0 kgs</text>
<text class="ax" x="631.4" y="493" text-anchor="middle" textLength="47.9" lengthAdjust="spacingAndGlyphs">16. Fev</text>
<text class="ax" x="781.6" y="493" text-anchor="middle" textLength="47.9" lengthAdjust="spacingAndGlyphs">17. Fev</text>
<text class="ax" x="931.8" y="493" text-anchor="middle" textLength="47.9" lengthAdjust="spacingAndGlyphs">18. Fev</text>
<text class="ax" x="1082.1" y="493" text-anchor="middle" textLength="47.9" lengthAdjust="spacingAndGlyphs">19. Fev</text>
<text class="ax" x="1232.3" y="493" text-anchor="middle" textLength="47.9" lengthAdjust="spacingAndGlyphs">20. Fev</text>
<text class="ax" x="1382.5" y="493" text-anchor="middle" textLength="47.9" lengthAdjust="spacingAndGlyphs">21. Fev</text>
<text class="ax" x="1532.7" y="493" text-anchor="middle" textLength="47.9" lengthAdjust="spacingAndGlyphs">22. Fev</text>
<text class="ax" transform="translate(410.3,313.8) rotate(-90)" text-anchor="middle" textLength="46.4" lengthAdjust="spacingAndGlyphs" style="fill:#666;font-size:15px;stroke:#666;stroke-width:.25">Values</text>
<text class="ax" transform="translate(1676.3,312.6) rotate(90)" text-anchor="middle" textLength="46.4" lengthAdjust="spacingAndGlyphs" style="fill:#666;font-size:15px;stroke:#666;stroke-width:.25">Values</text>
<text class="ax" transform="translate(1777.2,312.6) rotate(90)" text-anchor="middle" textLength="46.4" lengthAdjust="spacingAndGlyphs" style="fill:#666;font-size:15px;stroke:#666;stroke-width:.25">Values</text>
<polyline fill="none" stroke-width="2.5" stroke-linejoin="round" stroke-linecap="round" stroke="#7cb5ec" points="498.9,239.6 518.9,240.6 536.9,242.7 543.8,241.0 556.2,233.8 565.1,235.9 575.4,237.1 590.8,240.1 611.3,242.7 618.2,241.8 638.7,244.1 678.4,243.9 683.2,244.8 694.3,243.4 703.9,241.3 708.7,240.2 714.3,240.7 720.7,242.3 743.9,242.3 752.7,243.2 782.2,242.9 790.2,241.9 809.4,243.5 823.8,244.3 833.4,244.2 839.8,244.8 847.8,244.8 863.8,243.1 879.7,241.9 884.5,242.6 891.7,241.8 898.9,242.6 910.1,244.5 922.9,245.9 940.0,246.1 965.6,246.1 980.0,247.7 986.3,247.7 997.5,246.4 1005.5,244.8 1011.9,244.5 1018.3,245.0 1024.7,243.7 1029.5,244.2 1036.7,243.5 1048.7,244.5 1059.9,245.9 1075.8,245.9 1090.2,244.8 1106.2,245.9 1119.0,245.3 1128.6,246.6 1138.2,247.4 1154.2,247.2 1162.9,248.2 1170.1,246.3 1182.9,245.8 1190.9,245.5 1202.1,245.6 1214.9,247.4 1224.5,247.7 1234.1,248.7 1240.0,248.7 1254.4,249.3 1272.0,249.3 1280.0,249.8 1295.9,250.6 1308.7,246.7 1321.5,246.7 1327.9,247.7 1334.3,246.3 1340.7,247.4 1347.1,246.6 1359.9,249.0 1377.4,250.1 1390.2,249.9 1399.8,250.7 1409.4,251.2 1425.4,251.1 1441.4,252.5 1447.8,250.6 1455.8,249.5 1470.1,248.7 1482.9,249.3 1498.9,249.5 1509.7,251.5 1528.3,252.4 1555.2,252.2 1561.1,252.7 1580.5,252.6 1586.5,253.3 1594.0,252.7 1599.7,251.7"/>
<polyline fill="none" stroke-width="2.5" stroke-linejoin="round" stroke-linecap="round" stroke="#434348" points="498.9,337.7 518.9,338.7 536.9,340.8 543.8,339.1 556.2,331.9 565.1,334.0 575.4,335.2 590.8,338.2 611.3,340.8 618.2,339.9 638.7,342.2 678.4,342.0 683.2,342.9 694.3,341.5 703.9,339.4 708.7,338.3 714.3,338.8 720.7,340.4 743.9,340.4 752.7,341.3 782.2,341.0 790.2,340.0 809.4,341.6 823.8,342.4 833.4,342.3 839.8,342.9 847.8,342.9 863.8,341.2 879.7,340.0 884.5,340.7 891.7,339.9 898.9,340.7 910.1,342.6 922.9,344.0 940.0,344.2 965.6,344.2 980.0,345.8 986.3,345.8 997.5,344.5 1005.5,342.9 1011.9,342.6 1018.3,343.1 1024.7,341.8 1029.5,342.3 1036.7,341.6 1048.7,342.6 1059.9,344.0 1075.8,344.0 1090.2,342.9 1106.2,344.0 1119.0,343.4 1128.6,344.7 1138.2,345.5 1154.2,345.3 1162.9,346.3 1170.1,344.4 1182.9,343.9 1190.9,343.6 1202.1,343.7 1214.9,345.5 1224.5,345.8 1234.1,346.8 1240.0,346.8 1254.4,347.4 1272.0,347.4 1280.0,347.9 1295.9,348.7 1308.7,344.8 1321.5,344.8 1327.9,345.8 1334.3,344.4 1340.7,345.5 1347.1,344.7 1359.9,347.1 1377.4,348.2 1390.2,348.0 1399.8,348.8 1409.4,349.3 1425.4,349.2 1441.4,350.6 1447.8,348.7 1455.8,347.6 1470.1,346.8 1482.9,347.4 1498.9,347.6 1509.7,349.6 1528.3,350.5 1555.2,350.3 1561.1,350.8 1580.5,350.7 1586.5,351.4 1594.0,350.8 1599.7,349.8"/>
<polyline fill="none" stroke-width="2.5" stroke-linejoin="round" stroke-linecap="round" stroke="#90ed7d" points="498.8,454.2 505.1,454.2 511.5,446.3 517.8,446.3 524.1,454.2 530.4,446.3 536.8,446.3 543.1,430.6 549.4,406.9 555.7,399.1 562.1,383.3 568.4,383.3 574.7,375.5 581.1,383.3 587.4,383.3 593.7,383.3 600.0,391.2 606.4,391.2 612.7,383.3 619.0,391.2 625.3,391.2 631.7,391.2 638.0,391.2 644.3,391.2 650.6,383.3 657.0,383.3 663.3,383.3 669.6,391.2 676.0,391.2 682.3,383.3 688.6,383.3 694.9,375.5 701.3,336.1 707.6,312.5 713.9,296.8 720.2,281.0 726.6,273.1 732.9,304.6 739.2,320.4 745.6,328.2 751.9,344.0 758.2,351.8 764.5,359.7 770.9,359.7 777.2,359.7 783.5,359.7 789.8,359.7 796.2,359.7 802.5,351.8 808.8,351.8 815.2,351.8 821.5,351.8 827.8,351.8 834.1,359.7 840.5,359.7 846.8,344.0 853.1,336.1 859.4,320.4 865.8,320.4 872.1,312.5 878.4,304.6 884.7,304.6 891.1,320.4 897.4,336.1 903.7,351.8 910.1,367.6 916.4,383.3 922.7,391.2 929.0,399.1 935.4,399.1 941.7,406.9 948.0,406.9 954.3,414.8 960.7,414.8 967.0,414.8 973.3,414.8 979.7,422.7 986.0,422.7 992.3,386.6 998.6,351.8 1005.0,336.1 1011.3,328.2 1017.6,312.5 1023.9,273.1 1030.3,288.9 1036.6,304.6 1042.9,312.5 1049.2,328.2 1055.6,336.1 1061.9,336.1 1068.2,344.0 1074.6,336.1 1080.9,328.2 1087.2,328.2 1093.5,336.1 1099.9,336.1 1106.2,336.1 1112.5,336.1 1118.8,336.1 1125.2,344.0 1131.5,344.0 1137.8,336.1 1144.2,336.1 1150.5,336.1 1156.8,320.4 1163.1,304.6 1169.5,265.3 1175.8,241.7 1182.1,241.7 1188.4,273.1 1194.8,296.8 1201.1,312.5 1207.4,336.1 1213.8,351.8 1220.1,351.8 1226.4,359.7 1232.7,367.6 1239.1,367.6 1245.4,375.5 1251.7,375.5 1258.0,375.5 1264.4,375.5 1270.7,375.5 1277.0,383.3 1283.3,391.2 1289.7,391.2 1296.0,340.6 1302.3,288.9 1308.7,273.1 1315.0,257.4 1321.3,210.2 1327.6,218.1 1334.0,225.9 1340.3,265.3 1346.6,281.0 1352.9,296.8 1359.3,328.2 1365.6,336.1 1371.9,351.8 1378.3,359.7 1384.6,359.7 1390.9,359.7 1397.2,375.5 1403.6,383.3 1409.9,391.2 1416.2,399.1 1422.5,399.1 1428.9,406.9 1435.2,406.9 1441.5,375.5 1447.9,304.6 1454.2,265.3 1460.5,257.4 1466.8,241.7 1473.2,194.4 1479.5,218.1 1485.8,241.7 1492.1,273.1 1498.5,288.9 1504.8,320.4 1511.1,344.0 1517.4,359.7 1523.8,367.6 1530.1,375.5 1536.4,375.5 1542.8,383.3 1549.1,383.3 1555.4,383.3 1561.7,391.2 1568.1,391.2 1574.4,399.1 1580.7,399.1 1587.0,399.1 1593.4,383.3 1599.7,351.8"/>
<polyline fill="none" stroke-width="2.5" stroke-linejoin="round" stroke-linecap="round" stroke="#f7a35c" points="498.9,438.1 549.9,438.1 556.4,356.5 695.4,356.5 707.8,193.8 1599.7,193.8"/>
<path d="M886.9 529.4H906.9" stroke="#7cb5ec" stroke-width="2.5"/><circle cx="896.9" cy="529.4" r="5" fill="#7cb5ec"/>
<text class="lg" x="913.7" y="535" textLength="39.7" lengthAdjust="spacingAndGlyphs">Poids</text>
<path d="M978.9 529.4H998.9" stroke="#434348" stroke-width="2.5"/><path d="M988.9 524.4l5 5l-5 5l-5-5z" fill="#434348"/>
<text class="lg" x="1005.8" y="535" textLength="74.2" lengthAdjust="spacingAndGlyphs">Poids NET</text>
<path d="M1104.9 529.4H1124.9" stroke="#90ed7d" stroke-width="2.5"/><rect x="1110.2" y="524.6999999999999" width="9.4" height="9.4" fill="#90ed7d"/>
<text class="lg" x="1131.6" y="535" textLength="51.9" lengthAdjust="spacingAndGlyphs">Degrés</text>
<path d="M1209.1 529.4H1229.1" stroke="#f7a35c" stroke-width="2.5"/><path d="M1219.1 524.4l5 10h-10z" fill="#f7a35c"/>
<text class="lg" x="1236" y="535" textLength="63.9" lengthAdjust="spacingAndGlyphs">Capacité</text>
<text x="1797.9" y="560.6" text-anchor="end" font-family="DejaVu Sans, Liberation Sans, sans-serif" font-size="10.8" fill="#999" textLength="85.8" lengthAdjust="spacingAndGlyphs">Highcharts.com</text>
</g>
<!--CALLOUTS-->
<g id="callouts">
<rect class="bx" x="615" y="101.1" width="207.9" height="41.4" rx="8" ry="8"/><polygon fill="#fff" points="729.2,140.9 728.8000000000001,142.5 813,192.6 758.0,142.5 757.6,140.9"/><polyline class="pt" fill="none" points="728.6,142.5 813,192.6 758.2,142.5"/><text class="co" x="718.2" y="128.5" textLength="96.2" lengthAdjust="spacingAndGlyphs">Batterie %</text>
<rect class="bx" x="447.1" y="178.9" width="160.8" height="50.6" rx="8.5" ry="8.5"/><polygon fill="#fff" points="576.0,227.9 575.6,229.5 612.2,240.5 590.5999999999999,229.5 590.1999999999999,227.9"/><polyline class="pt" fill="none" points="575.4,229.5 612.2,240.5 590.8,229.5"/><text class="co" x="528.2" y="210.7" textLength="96.2" lengthAdjust="spacingAndGlyphs">Poids brut</text>
<rect class="bx" x="483" y="266.1" width="146.8" height="41.4" rx="8" ry="8"/><polygon fill="#fff" points="576.0,305.9 575.6,307.5 641.3,341.9 597.0999999999999,307.5 596.6999999999999,305.9"/><polyline class="pt" fill="none" points="575.4,307.5 641.3,341.9 597.3,307.5"/><text class="co" x="556.7" y="293.5" textLength="89.3" lengthAdjust="spacingAndGlyphs">Poids net</text>
<rect class="bx" x="677.1" y="415.3" width="238.9" height="37.6" rx="8" ry="8"/><polygon fill="#fff" points="821.4,416.90000000000003 821.0,415.3 926.8,396 877.0,415.3 876.6,416.90000000000003"/><polyline class="pt" fill="none" points="820.8,415.3 926.8,396 877.2,415.3"/><text class="co" x="796.8" y="440.5" textLength="121.4" lengthAdjust="spacingAndGlyphs">Température</text>
<rect class="bx" x="163" y="417.8" width="149.2" height="40.5" rx="8" ry="8"/><polygon fill="#fff" points="183.4,419.40000000000003 183.0,417.8 136.3,393.6 208.8,417.8 208.4,419.40000000000003"/><polyline class="pt" fill="none" points="182.8,417.8 136.3,393.6 209,417.8"/><text class="co" x="237.7" y="444.5" textLength="53.2" lengthAdjust="spacingAndGlyphs">Reine</text>
<rect class="bx" x="184.9" y="561.3" width="153.1" height="44.0" rx="8" ry="8"/><polygon fill="#fff" points="204.5,562.9 204.1,561.3 158,537.6 226.0,561.3 225.6,562.9"/><polyline class="pt" fill="none" points="203.9,561.3 158,537.6 226.2,561.3"/><text class="co" x="262" y="589.8" textLength="42.9" lengthAdjust="spacingAndGlyphs">Tare</text>
<path d="M1095.6 604.8V620.4L1099.3 617.2L1101.8 622.4L1104.6 621.2L1102.5 616.5L1107 616.1Z" fill="#fff" stroke="#14141e" stroke-width="1.2" stroke-linejoin="round"/>
</g>
</svg>
</body>
</html>
